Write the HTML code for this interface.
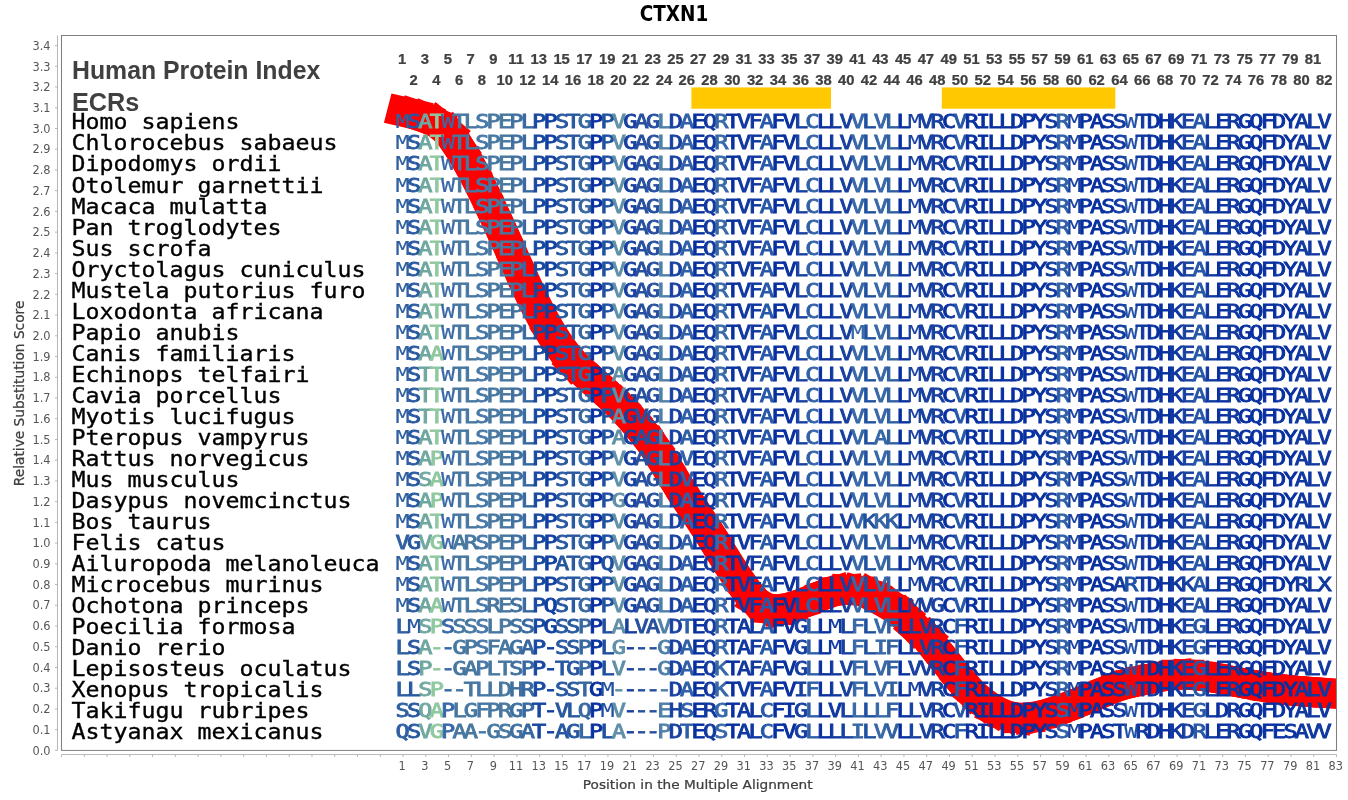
<!DOCTYPE html>
<html><head><meta charset="utf-8"><title>CTXN1</title>
<style>
html,body{margin:0;padding:0;background:#fff;overflow:hidden}
.w{stroke-width:0.15}
svg{display:block}
.m{font-family:"DejaVu Sans Mono","Liberation Mono",monospace}
.s{font-family:"DejaVu Sans","Liberation Sans",sans-serif}
.a{font-family:"Liberation Sans",sans-serif;font-weight:bold;fill:#404040}
.c0{fill:#0830a0;stroke:#0830a0}
.c1{fill:#1038a0;stroke:#1038a0}
.c2{fill:#1040a0;stroke:#1040a0}
.c3{fill:#1840a0;stroke:#1840a0}
.c4{fill:#1848a0;stroke:#1848a0}
.c5{fill:#2050a0;stroke:#2050a0}
.c6{fill:#2050a8;stroke:#2050a8}
.c7{fill:#2850a0;stroke:#2850a0}
.c8{fill:#2858a0;stroke:#2858a0}
.c9{fill:#2858a8;stroke:#2858a8}
.c10{fill:#3060a0;stroke:#3060a0}
.c11{fill:#3060a8;stroke:#3060a8}
.c12{fill:#3868a0;stroke:#3868a0}
.c13{fill:#3868a8;stroke:#3868a8}
.c14{fill:#4070a0;stroke:#4070a0}
.c15{fill:#4878a0;stroke:#4878a0}
.c16{fill:#4878a8;stroke:#4878a8}
.c17{fill:#5080a8;stroke:#5080a8}
.c18{fill:#6090a8;stroke:#6090a8}
.c19{fill:#70a8a0;stroke:#70a8a0}
.c20{fill:#90c8a0;stroke:#90c8a0}
</style></head><body>
<svg width="1348" height="800" viewBox="0 0 1280 800" preserveAspectRatio="none">
<rect x="0" y="0" width="1280" height="800" fill="#fff"/>
<text class="s" transform="translate(640.00,21) scale(0.843,1)" font-size="20.8" font-weight="bold" text-anchor="middle" fill="#000">CTXN1</text>
<defs><clipPath id="pc"><rect x="58.40" y="35.50" width="1210.68" height="714.90"/></clipPath></defs>
<g clip-path="url(#pc)" stroke="#f00" stroke-width="30" stroke-linecap="square" fill="none">
<line x1="382.69" y1="111.66" x2="393.50" y2="114.33"/><line x1="393.50" y1="114.33" x2="404.31" y2="118.20"/><line x1="404.31" y1="118.20" x2="415.12" y2="123.17"/><line x1="415.12" y1="123.17" x2="425.93" y2="132.56"/><line x1="425.93" y1="132.56" x2="436.74" y2="148.85"/><line x1="436.74" y1="148.85" x2="447.55" y2="168.29"/><line x1="447.55" y1="168.29" x2="458.36" y2="190.44"/><line x1="458.36" y1="190.44" x2="469.17" y2="214.47"/><line x1="469.17" y1="214.47" x2="479.98" y2="239.17"/><line x1="479.98" y1="239.17" x2="490.79" y2="264.85"/><line x1="490.79" y1="264.85" x2="501.60" y2="289.69"/><line x1="501.60" y1="289.69" x2="512.41" y2="312.48"/><line x1="512.41" y1="312.48" x2="523.22" y2="332.72"/><line x1="523.22" y1="332.72" x2="534.03" y2="349.82"/><line x1="534.03" y1="349.82" x2="544.84" y2="363.63"/><line x1="544.84" y1="363.63" x2="555.65" y2="374.06"/><line x1="555.65" y1="374.06" x2="566.46" y2="384.25"/><line x1="566.46" y1="384.25" x2="577.26" y2="394.51"/><line x1="577.26" y1="394.51" x2="588.07" y2="405.40"/><line x1="588.07" y1="405.40" x2="598.88" y2="417.44"/><line x1="598.88" y1="417.44" x2="609.69" y2="430.87"/><line x1="609.69" y1="430.87" x2="620.50" y2="445.64"/><line x1="620.50" y1="445.64" x2="631.31" y2="463.68"/><line x1="631.31" y1="463.68" x2="642.12" y2="482.50"/><line x1="642.12" y1="482.50" x2="652.93" y2="500.29"/><line x1="652.93" y1="500.29" x2="663.74" y2="517.36"/><line x1="663.74" y1="517.36" x2="674.55" y2="534.77"/><line x1="674.55" y1="534.77" x2="685.36" y2="553.18"/><line x1="685.36" y1="553.18" x2="696.17" y2="571.29"/><line x1="696.17" y1="571.29" x2="706.98" y2="587.94"/><line x1="706.98" y1="587.94" x2="717.79" y2="601.59"/><line x1="717.79" y1="601.59" x2="728.60" y2="608.38"/><line x1="728.60" y1="608.38" x2="739.41" y2="609.21"/><line x1="739.41" y1="609.21" x2="750.22" y2="607.24"/><line x1="750.22" y1="607.24" x2="761.03" y2="603.67"/><line x1="761.03" y1="603.67" x2="771.84" y2="599.18"/><line x1="771.84" y1="599.18" x2="782.65" y2="594.70"/><line x1="782.65" y1="594.70" x2="793.46" y2="591.06"/><line x1="793.46" y1="591.06" x2="804.27" y2="589.88"/><line x1="804.27" y1="589.88" x2="815.08" y2="590.69"/><line x1="815.08" y1="590.69" x2="825.89" y2="593.71"/><line x1="825.89" y1="593.71" x2="836.70" y2="600.64"/><line x1="836.70" y1="600.64" x2="847.51" y2="606.34"/><line x1="847.51" y1="606.34" x2="858.32" y2="615.60"/><line x1="858.32" y1="615.60" x2="869.13" y2="627.74"/><line x1="869.13" y1="627.74" x2="879.94" y2="637.68"/><line x1="879.94" y1="637.68" x2="890.75" y2="652.03"/><line x1="890.75" y1="652.03" x2="901.56" y2="666.27"/><line x1="901.56" y1="666.27" x2="912.37" y2="680.44"/><line x1="912.37" y1="680.44" x2="923.18" y2="693.29"/><line x1="923.18" y1="693.29" x2="933.99" y2="702.76"/><line x1="933.99" y1="702.76" x2="944.80" y2="710.31"/><line x1="944.80" y1="710.31" x2="955.61" y2="715.32"/><line x1="955.61" y1="715.32" x2="966.42" y2="717.83"/><line x1="966.42" y1="717.83" x2="977.22" y2="717.50"/><line x1="977.22" y1="717.50" x2="988.03" y2="715.50"/><line x1="988.03" y1="715.50" x2="998.84" y2="712.26"/><line x1="998.84" y1="712.26" x2="1009.65" y2="708.38"/><line x1="1009.65" y1="708.38" x2="1020.46" y2="704.05"/><line x1="1020.46" y1="704.05" x2="1031.27" y2="699.42"/><line x1="1031.27" y1="699.42" x2="1042.08" y2="694.68"/><line x1="1042.08" y1="694.68" x2="1052.89" y2="689.89"/><line x1="1052.89" y1="689.89" x2="1063.70" y2="685.78"/><line x1="1063.70" y1="685.78" x2="1074.51" y2="682.65"/><line x1="1074.51" y1="682.65" x2="1085.32" y2="680.27"/><line x1="1085.32" y1="680.27" x2="1096.13" y2="677.89"/><line x1="1096.13" y1="677.89" x2="1106.94" y2="676.01"/><line x1="1106.94" y1="676.01" x2="1117.75" y2="674.84"/><line x1="1117.75" y1="674.84" x2="1128.56" y2="674.83"/><line x1="1128.56" y1="674.83" x2="1139.37" y2="675.71"/><line x1="1139.37" y1="675.71" x2="1150.18" y2="677.28"/><line x1="1150.18" y1="677.28" x2="1160.99" y2="679.24"/><line x1="1160.99" y1="679.24" x2="1171.80" y2="681.41"/><line x1="1171.80" y1="681.41" x2="1182.61" y2="683.55"/><line x1="1182.61" y1="683.55" x2="1193.42" y2="685.57"/><line x1="1193.42" y1="685.57" x2="1204.23" y2="687.41"/><line x1="1204.23" y1="687.41" x2="1215.04" y2="688.95"/><line x1="1215.04" y1="688.95" x2="1225.85" y2="690.23"/><line x1="1225.85" y1="690.23" x2="1236.66" y2="691.32"/><line x1="1236.66" y1="691.32" x2="1247.47" y2="692.15"/><line x1="1247.47" y1="692.15" x2="1258.28" y2="692.96"/><line x1="1258.28" y1="692.96" x2="1269.09" y2="693.63"/>
</g>
<rect x="656.52" y="87.4" width="132.56" height="21.3" fill="#ffc800"/>
<rect x="894.29" y="87.4" width="164.75" height="21.3" fill="#ffc800"/>
<text class="a" transform="translate(68.37,78.8) scale(0.943,1)" font-size="25">Human Protein Index</text>
<text class="a" transform="translate(68.37,111.2) scale(0.96,1)" font-size="25">ECRs</text>
<g class="a" font-size="14.6" text-anchor="middle" stroke="#404040" stroke-width="0.25" transform="scale(0.96,1)">
<text x="397.84" y="63.7">1</text><text x="409.10" y="84.6">2</text><text x="420.36" y="63.7">3</text><text x="431.62" y="84.6">4</text><text x="442.88" y="63.7">5</text><text x="454.14" y="84.6">6</text><text x="465.40" y="63.7">7</text><text x="476.66" y="84.6">8</text><text x="487.92" y="63.7">9</text><text x="499.18" y="84.6">10</text><text x="510.45" y="63.7">11</text><text x="521.71" y="84.6">12</text><text x="532.97" y="63.7">13</text><text x="544.23" y="84.6">14</text><text x="555.49" y="63.7">15</text><text x="566.75" y="84.6">16</text><text x="578.01" y="63.7">17</text><text x="589.27" y="84.6">18</text><text x="600.53" y="63.7">19</text><text x="611.79" y="84.6">20</text><text x="623.05" y="63.7">21</text><text x="634.31" y="84.6">22</text><text x="645.57" y="63.7">23</text><text x="656.83" y="84.6">24</text><text x="668.09" y="63.7">25</text><text x="679.35" y="84.6">26</text><text x="690.61" y="63.7">27</text><text x="701.87" y="84.6">28</text><text x="713.13" y="63.7">29</text><text x="724.39" y="84.6">30</text><text x="735.65" y="63.7">31</text><text x="746.91" y="84.6">32</text><text x="758.17" y="63.7">33</text><text x="769.43" y="84.6">34</text><text x="780.69" y="63.7">35</text><text x="791.95" y="84.6">36</text><text x="803.21" y="63.7">37</text><text x="814.47" y="84.6">38</text><text x="825.73" y="63.7">39</text><text x="836.99" y="84.6">40</text><text x="848.25" y="63.7">41</text><text x="859.51" y="84.6">42</text><text x="870.77" y="63.7">43</text><text x="882.03" y="84.6">44</text><text x="893.29" y="63.7">45</text><text x="904.55" y="84.6">46</text><text x="915.81" y="63.7">47</text><text x="927.07" y="84.6">48</text><text x="938.33" y="63.7">49</text><text x="949.59" y="84.6">50</text><text x="960.85" y="63.7">51</text><text x="972.11" y="84.6">52</text><text x="983.37" y="63.7">53</text><text x="994.63" y="84.6">54</text><text x="1005.89" y="63.7">55</text><text x="1017.15" y="84.6">56</text><text x="1028.41" y="63.7">57</text><text x="1039.67" y="84.6">58</text><text x="1050.93" y="63.7">59</text><text x="1062.19" y="84.6">60</text><text x="1073.45" y="63.7">61</text><text x="1084.71" y="84.6">62</text><text x="1095.97" y="63.7">63</text><text x="1107.23" y="84.6">64</text><text x="1118.49" y="63.7">65</text><text x="1129.75" y="84.6">66</text><text x="1141.01" y="63.7">67</text><text x="1152.27" y="84.6">68</text><text x="1163.53" y="63.7">69</text><text x="1174.79" y="84.6">70</text><text x="1186.05" y="63.7">71</text><text x="1197.31" y="84.6">72</text><text x="1208.57" y="63.7">73</text><text x="1219.83" y="84.6">74</text><text x="1231.09" y="63.7">75</text><text x="1242.35" y="84.6">76</text><text x="1253.61" y="63.7">77</text><text x="1264.87" y="84.6">78</text><text x="1276.13" y="63.7">79</text><text x="1287.39" y="84.6">80</text><text x="1298.65" y="63.7">81</text><text x="1309.91" y="84.6">82</text>
</g>
<g class="m" font-size="22.1" fill="#000" stroke="#000" stroke-width="0.35">
<text x="67.80" y="129.00">Homo sapiens</text>
<text x="67.80" y="150.00">Chlorocebus sabaeus</text>
<text x="67.80" y="171.00">Dipodomys ordii</text>
<text x="67.80" y="193.00">Otolemur garnettii</text>
<text x="67.80" y="214.00">Macaca mulatta</text>
<text x="67.80" y="235.00">Pan troglodytes</text>
<text x="67.80" y="256.00">Sus scrofa</text>
<text x="67.80" y="277.00">Oryctolagus cuniculus</text>
<text x="67.80" y="298.00">Mustela putorius furo</text>
<text x="67.80" y="319.00">Loxodonta africana</text>
<text x="67.80" y="340.00">Papio anubis</text>
<text x="67.80" y="361.00">Canis familiaris</text>
<text x="67.80" y="382.00">Echinops telfairi</text>
<text x="67.80" y="403.00">Cavia porcellus</text>
<text x="67.80" y="424.00">Myotis lucifugus</text>
<text x="67.80" y="445.00">Pteropus vampyrus</text>
<text x="67.80" y="466.00">Rattus norvegicus</text>
<text x="67.80" y="487.00">Mus musculus</text>
<text x="67.80" y="508.00">Dasypus novemcinctus</text>
<text x="67.80" y="529.00">Bos taurus</text>
<text x="67.80" y="550.00">Felis catus</text>
<text x="67.80" y="571.00">Ailuropoda melanoleuca</text>
<text x="67.80" y="592.00">Microcebus murinus</text>
<text x="67.80" y="613.00">Ochotona princeps</text>
<text x="67.80" y="634.00">Poecilia formosa</text>
<text x="67.80" y="655.00">Danio rerio</text>
<text x="67.80" y="676.00">Lepisosteus oculatus</text>
<text x="67.80" y="697.00">Xenopus tropicalis</text>
<text x="67.80" y="718.00">Takifugu rubripes</text>
<text x="67.80" y="739.00">Astyanax mexicanus</text>
</g>
<g class="m" font-size="20" font-weight="normal" stroke-width="0.9" transform="scale(1.12,1)">
<text y="128.45"><tspan class="c10 w" x="335.33">M</tspan><tspan class="c8" x="344.98">S</tspan><tspan class="c19" x="354.63">A</tspan><tspan class="c20" x="364.28">T</tspan><tspan class="c13 w" x="373.93">W</tspan><tspan class="c15" x="383.59">T</tspan><tspan class="c15" x="393.24">L</tspan><tspan class="c16" x="402.89">S</tspan><tspan class="c15" x="412.54">P</tspan><tspan class="c15" x="422.19">E</tspan><tspan class="c14" x="431.84">P</tspan><tspan class="c12" x="441.49">L</tspan><tspan class="c4" x="451.15">P</tspan><tspan class="c2" x="460.80">P</tspan><tspan class="c8" x="470.45">S</tspan><tspan class="c8" x="480.10">T</tspan><tspan class="c12" x="489.75">G</tspan><tspan class="c0" x="499.40">P</tspan><tspan class="c5" x="509.06">P</tspan><tspan class="c18" x="518.71">V</tspan><tspan class="c3" x="528.36">G</tspan><tspan class="c7" x="538.01">A</tspan><tspan class="c7" x="547.66">G</tspan><tspan class="c17" x="557.31">L</tspan><tspan class="c3" x="566.96">D</tspan><tspan class="c11" x="576.62">A</tspan><tspan class="c0" x="586.27">E</tspan><tspan class="c1" x="595.92">Q</tspan><tspan class="c13" x="605.57">R</tspan><tspan class="c0" x="615.22">T</tspan><tspan class="c1" x="624.87">V</tspan><tspan class="c1" x="634.53">F</tspan><tspan class="c9" x="644.18">A</tspan><tspan class="c0" x="653.83">F</tspan><tspan class="c0" x="663.48">V</tspan><tspan class="c3" x="673.13">L</tspan><tspan class="c11" x="682.78">C</tspan><tspan class="c0" x="692.43">L</tspan><tspan class="c1" x="702.09">L</tspan><tspan class="c3" x="711.74">V</tspan><tspan class="c13" x="721.39">V</tspan><tspan class="c5" x="731.04">L</tspan><tspan class="c13" x="740.69">V</tspan><tspan class="c10" x="750.34">L</tspan><tspan class="c0" x="760.00">L</tspan><tspan class="c3 w" x="769.65">M</tspan><tspan class="c3" x="779.30">V</tspan><tspan class="c3" x="788.95">R</tspan><tspan class="c0" x="798.60">C</tspan><tspan class="c9" x="808.25">V</tspan><tspan class="c0" x="817.90">R</tspan><tspan class="c0" x="827.56">I</tspan><tspan class="c0" x="837.21">L</tspan><tspan class="c0" x="846.86">L</tspan><tspan class="c0" x="856.51">D</tspan><tspan class="c0" x="866.16">P</tspan><tspan class="c0" x="875.81">Y</tspan><tspan class="c1" x="885.47">S</tspan><tspan class="c11" x="895.12">R</tspan><tspan class="c3 w" x="904.77">M</tspan><tspan class="c0" x="914.42">P</tspan><tspan class="c0" x="924.07">A</tspan><tspan class="c0" x="933.72">S</tspan><tspan class="c1" x="943.38">S</tspan><tspan class="c6 w" x="953.03">W</tspan><tspan class="c1" x="962.68">T</tspan><tspan class="c0" x="972.33">D</tspan><tspan class="c0" x="981.98">H</tspan><tspan class="c1" x="991.63">K</tspan><tspan class="c3" x="1001.28">E</tspan><tspan class="c9" x="1010.94">A</tspan><tspan class="c1" x="1020.59">L</tspan><tspan class="c0" x="1030.24">E</tspan><tspan class="c1" x="1039.89">R</tspan><tspan class="c0" x="1049.54">G</tspan><tspan class="c0" x="1059.19">Q</tspan><tspan class="c0" x="1068.85">F</tspan><tspan class="c0" x="1078.50">D</tspan><tspan class="c0" x="1088.15">Y</tspan><tspan class="c1" x="1097.80">A</tspan><tspan class="c1" x="1107.45">L</tspan><tspan class="c1" x="1117.10">V</tspan></text>
<text y="149.45"><tspan class="c10 w" x="335.33">M</tspan><tspan class="c8" x="344.98">S</tspan><tspan class="c19" x="354.63">A</tspan><tspan class="c20" x="364.28">T</tspan><tspan class="c13 w" x="373.93">W</tspan><tspan class="c15" x="383.59">T</tspan><tspan class="c15" x="393.24">L</tspan><tspan class="c16" x="402.89">S</tspan><tspan class="c15" x="412.54">P</tspan><tspan class="c15" x="422.19">E</tspan><tspan class="c14" x="431.84">P</tspan><tspan class="c12" x="441.49">L</tspan><tspan class="c4" x="451.15">P</tspan><tspan class="c2" x="460.80">P</tspan><tspan class="c8" x="470.45">S</tspan><tspan class="c8" x="480.10">T</tspan><tspan class="c12" x="489.75">G</tspan><tspan class="c0" x="499.40">P</tspan><tspan class="c5" x="509.06">P</tspan><tspan class="c18" x="518.71">V</tspan><tspan class="c3" x="528.36">G</tspan><tspan class="c7" x="538.01">A</tspan><tspan class="c7" x="547.66">G</tspan><tspan class="c17" x="557.31">L</tspan><tspan class="c3" x="566.96">D</tspan><tspan class="c11" x="576.62">A</tspan><tspan class="c0" x="586.27">E</tspan><tspan class="c1" x="595.92">Q</tspan><tspan class="c13" x="605.57">R</tspan><tspan class="c0" x="615.22">T</tspan><tspan class="c1" x="624.87">V</tspan><tspan class="c1" x="634.53">F</tspan><tspan class="c9" x="644.18">A</tspan><tspan class="c0" x="653.83">F</tspan><tspan class="c0" x="663.48">V</tspan><tspan class="c3" x="673.13">L</tspan><tspan class="c11" x="682.78">C</tspan><tspan class="c0" x="692.43">L</tspan><tspan class="c1" x="702.09">L</tspan><tspan class="c3" x="711.74">V</tspan><tspan class="c13" x="721.39">V</tspan><tspan class="c5" x="731.04">L</tspan><tspan class="c13" x="740.69">V</tspan><tspan class="c10" x="750.34">L</tspan><tspan class="c0" x="760.00">L</tspan><tspan class="c3 w" x="769.65">M</tspan><tspan class="c3" x="779.30">V</tspan><tspan class="c3" x="788.95">R</tspan><tspan class="c0" x="798.60">C</tspan><tspan class="c9" x="808.25">V</tspan><tspan class="c0" x="817.90">R</tspan><tspan class="c0" x="827.56">I</tspan><tspan class="c0" x="837.21">L</tspan><tspan class="c0" x="846.86">L</tspan><tspan class="c0" x="856.51">D</tspan><tspan class="c0" x="866.16">P</tspan><tspan class="c0" x="875.81">Y</tspan><tspan class="c1" x="885.47">S</tspan><tspan class="c11" x="895.12">R</tspan><tspan class="c3 w" x="904.77">M</tspan><tspan class="c0" x="914.42">P</tspan><tspan class="c0" x="924.07">A</tspan><tspan class="c0" x="933.72">S</tspan><tspan class="c1" x="943.38">S</tspan><tspan class="c6 w" x="953.03">W</tspan><tspan class="c1" x="962.68">T</tspan><tspan class="c0" x="972.33">D</tspan><tspan class="c0" x="981.98">H</tspan><tspan class="c1" x="991.63">K</tspan><tspan class="c3" x="1001.28">E</tspan><tspan class="c9" x="1010.94">A</tspan><tspan class="c1" x="1020.59">L</tspan><tspan class="c0" x="1030.24">E</tspan><tspan class="c1" x="1039.89">R</tspan><tspan class="c0" x="1049.54">G</tspan><tspan class="c0" x="1059.19">Q</tspan><tspan class="c0" x="1068.85">F</tspan><tspan class="c0" x="1078.50">D</tspan><tspan class="c0" x="1088.15">Y</tspan><tspan class="c1" x="1097.80">A</tspan><tspan class="c1" x="1107.45">L</tspan><tspan class="c1" x="1117.10">V</tspan></text>
<text y="170.45"><tspan class="c10 w" x="335.33">M</tspan><tspan class="c8" x="344.98">S</tspan><tspan class="c19" x="354.63">A</tspan><tspan class="c20" x="364.28">T</tspan><tspan class="c13 w" x="373.93">W</tspan><tspan class="c15" x="383.59">T</tspan><tspan class="c15" x="393.24">L</tspan><tspan class="c16" x="402.89">S</tspan><tspan class="c15" x="412.54">P</tspan><tspan class="c15" x="422.19">E</tspan><tspan class="c14" x="431.84">P</tspan><tspan class="c12" x="441.49">L</tspan><tspan class="c4" x="451.15">P</tspan><tspan class="c2" x="460.80">P</tspan><tspan class="c8" x="470.45">S</tspan><tspan class="c8" x="480.10">T</tspan><tspan class="c12" x="489.75">G</tspan><tspan class="c0" x="499.40">P</tspan><tspan class="c5" x="509.06">P</tspan><tspan class="c18" x="518.71">V</tspan><tspan class="c3" x="528.36">G</tspan><tspan class="c7" x="538.01">A</tspan><tspan class="c7" x="547.66">G</tspan><tspan class="c17" x="557.31">L</tspan><tspan class="c3" x="566.96">D</tspan><tspan class="c11" x="576.62">A</tspan><tspan class="c0" x="586.27">E</tspan><tspan class="c1" x="595.92">Q</tspan><tspan class="c13" x="605.57">R</tspan><tspan class="c0" x="615.22">T</tspan><tspan class="c1" x="624.87">V</tspan><tspan class="c1" x="634.53">F</tspan><tspan class="c9" x="644.18">A</tspan><tspan class="c0" x="653.83">F</tspan><tspan class="c0" x="663.48">V</tspan><tspan class="c3" x="673.13">L</tspan><tspan class="c11" x="682.78">C</tspan><tspan class="c0" x="692.43">L</tspan><tspan class="c1" x="702.09">L</tspan><tspan class="c3" x="711.74">V</tspan><tspan class="c13" x="721.39">V</tspan><tspan class="c5" x="731.04">L</tspan><tspan class="c13" x="740.69">V</tspan><tspan class="c10" x="750.34">L</tspan><tspan class="c0" x="760.00">L</tspan><tspan class="c3 w" x="769.65">M</tspan><tspan class="c3" x="779.30">V</tspan><tspan class="c3" x="788.95">R</tspan><tspan class="c0" x="798.60">C</tspan><tspan class="c9" x="808.25">V</tspan><tspan class="c0" x="817.90">R</tspan><tspan class="c0" x="827.56">I</tspan><tspan class="c0" x="837.21">L</tspan><tspan class="c0" x="846.86">L</tspan><tspan class="c0" x="856.51">D</tspan><tspan class="c0" x="866.16">P</tspan><tspan class="c0" x="875.81">Y</tspan><tspan class="c1" x="885.47">S</tspan><tspan class="c11" x="895.12">R</tspan><tspan class="c3 w" x="904.77">M</tspan><tspan class="c0" x="914.42">P</tspan><tspan class="c0" x="924.07">A</tspan><tspan class="c0" x="933.72">S</tspan><tspan class="c1" x="943.38">S</tspan><tspan class="c6 w" x="953.03">W</tspan><tspan class="c1" x="962.68">T</tspan><tspan class="c0" x="972.33">D</tspan><tspan class="c0" x="981.98">H</tspan><tspan class="c1" x="991.63">K</tspan><tspan class="c3" x="1001.28">E</tspan><tspan class="c9" x="1010.94">A</tspan><tspan class="c1" x="1020.59">L</tspan><tspan class="c0" x="1030.24">E</tspan><tspan class="c1" x="1039.89">R</tspan><tspan class="c0" x="1049.54">G</tspan><tspan class="c0" x="1059.19">Q</tspan><tspan class="c0" x="1068.85">F</tspan><tspan class="c0" x="1078.50">D</tspan><tspan class="c0" x="1088.15">Y</tspan><tspan class="c1" x="1097.80">A</tspan><tspan class="c1" x="1107.45">L</tspan><tspan class="c1" x="1117.10">V</tspan></text>
<text y="192.45"><tspan class="c10 w" x="335.33">M</tspan><tspan class="c8" x="344.98">S</tspan><tspan class="c19" x="354.63">A</tspan><tspan class="c20" x="364.28">T</tspan><tspan class="c13 w" x="373.93">W</tspan><tspan class="c15" x="383.59">T</tspan><tspan class="c15" x="393.24">L</tspan><tspan class="c16" x="402.89">S</tspan><tspan class="c15" x="412.54">P</tspan><tspan class="c15" x="422.19">E</tspan><tspan class="c14" x="431.84">P</tspan><tspan class="c12" x="441.49">L</tspan><tspan class="c4" x="451.15">P</tspan><tspan class="c2" x="460.80">P</tspan><tspan class="c8" x="470.45">S</tspan><tspan class="c8" x="480.10">T</tspan><tspan class="c12" x="489.75">G</tspan><tspan class="c0" x="499.40">P</tspan><tspan class="c5" x="509.06">P</tspan><tspan class="c18" x="518.71">V</tspan><tspan class="c3" x="528.36">G</tspan><tspan class="c7" x="538.01">A</tspan><tspan class="c7" x="547.66">G</tspan><tspan class="c17" x="557.31">L</tspan><tspan class="c3" x="566.96">D</tspan><tspan class="c11" x="576.62">A</tspan><tspan class="c0" x="586.27">E</tspan><tspan class="c1" x="595.92">Q</tspan><tspan class="c13" x="605.57">R</tspan><tspan class="c0" x="615.22">T</tspan><tspan class="c1" x="624.87">V</tspan><tspan class="c1" x="634.53">F</tspan><tspan class="c9" x="644.18">A</tspan><tspan class="c0" x="653.83">F</tspan><tspan class="c0" x="663.48">V</tspan><tspan class="c3" x="673.13">L</tspan><tspan class="c11" x="682.78">C</tspan><tspan class="c0" x="692.43">L</tspan><tspan class="c1" x="702.09">L</tspan><tspan class="c3" x="711.74">V</tspan><tspan class="c13" x="721.39">V</tspan><tspan class="c5" x="731.04">L</tspan><tspan class="c13" x="740.69">V</tspan><tspan class="c10" x="750.34">L</tspan><tspan class="c0" x="760.00">L</tspan><tspan class="c3 w" x="769.65">M</tspan><tspan class="c3" x="779.30">V</tspan><tspan class="c3" x="788.95">R</tspan><tspan class="c0" x="798.60">C</tspan><tspan class="c9" x="808.25">V</tspan><tspan class="c0" x="817.90">R</tspan><tspan class="c0" x="827.56">I</tspan><tspan class="c0" x="837.21">L</tspan><tspan class="c0" x="846.86">L</tspan><tspan class="c0" x="856.51">D</tspan><tspan class="c0" x="866.16">P</tspan><tspan class="c0" x="875.81">Y</tspan><tspan class="c1" x="885.47">S</tspan><tspan class="c11" x="895.12">R</tspan><tspan class="c3 w" x="904.77">M</tspan><tspan class="c0" x="914.42">P</tspan><tspan class="c0" x="924.07">A</tspan><tspan class="c0" x="933.72">S</tspan><tspan class="c1" x="943.38">S</tspan><tspan class="c6 w" x="953.03">W</tspan><tspan class="c1" x="962.68">T</tspan><tspan class="c0" x="972.33">D</tspan><tspan class="c0" x="981.98">H</tspan><tspan class="c1" x="991.63">K</tspan><tspan class="c3" x="1001.28">E</tspan><tspan class="c9" x="1010.94">A</tspan><tspan class="c1" x="1020.59">L</tspan><tspan class="c0" x="1030.24">E</tspan><tspan class="c1" x="1039.89">R</tspan><tspan class="c0" x="1049.54">G</tspan><tspan class="c0" x="1059.19">Q</tspan><tspan class="c0" x="1068.85">F</tspan><tspan class="c0" x="1078.50">D</tspan><tspan class="c0" x="1088.15">Y</tspan><tspan class="c1" x="1097.80">A</tspan><tspan class="c1" x="1107.45">L</tspan><tspan class="c1" x="1117.10">V</tspan></text>
<text y="213.45"><tspan class="c10 w" x="335.33">M</tspan><tspan class="c8" x="344.98">S</tspan><tspan class="c19" x="354.63">A</tspan><tspan class="c20" x="364.28">T</tspan><tspan class="c13 w" x="373.93">W</tspan><tspan class="c15" x="383.59">T</tspan><tspan class="c15" x="393.24">L</tspan><tspan class="c16" x="402.89">S</tspan><tspan class="c15" x="412.54">P</tspan><tspan class="c15" x="422.19">E</tspan><tspan class="c14" x="431.84">P</tspan><tspan class="c12" x="441.49">L</tspan><tspan class="c4" x="451.15">P</tspan><tspan class="c2" x="460.80">P</tspan><tspan class="c8" x="470.45">S</tspan><tspan class="c8" x="480.10">T</tspan><tspan class="c12" x="489.75">G</tspan><tspan class="c0" x="499.40">P</tspan><tspan class="c5" x="509.06">P</tspan><tspan class="c18" x="518.71">V</tspan><tspan class="c3" x="528.36">G</tspan><tspan class="c7" x="538.01">A</tspan><tspan class="c7" x="547.66">G</tspan><tspan class="c17" x="557.31">L</tspan><tspan class="c3" x="566.96">D</tspan><tspan class="c11" x="576.62">A</tspan><tspan class="c0" x="586.27">E</tspan><tspan class="c1" x="595.92">Q</tspan><tspan class="c13" x="605.57">R</tspan><tspan class="c0" x="615.22">T</tspan><tspan class="c1" x="624.87">V</tspan><tspan class="c1" x="634.53">F</tspan><tspan class="c9" x="644.18">A</tspan><tspan class="c0" x="653.83">F</tspan><tspan class="c0" x="663.48">V</tspan><tspan class="c3" x="673.13">L</tspan><tspan class="c11" x="682.78">C</tspan><tspan class="c0" x="692.43">L</tspan><tspan class="c1" x="702.09">L</tspan><tspan class="c3" x="711.74">V</tspan><tspan class="c13" x="721.39">V</tspan><tspan class="c5" x="731.04">L</tspan><tspan class="c13" x="740.69">V</tspan><tspan class="c10" x="750.34">L</tspan><tspan class="c0" x="760.00">L</tspan><tspan class="c3 w" x="769.65">M</tspan><tspan class="c3" x="779.30">V</tspan><tspan class="c3" x="788.95">R</tspan><tspan class="c0" x="798.60">C</tspan><tspan class="c9" x="808.25">V</tspan><tspan class="c0" x="817.90">R</tspan><tspan class="c0" x="827.56">I</tspan><tspan class="c0" x="837.21">L</tspan><tspan class="c0" x="846.86">L</tspan><tspan class="c0" x="856.51">D</tspan><tspan class="c0" x="866.16">P</tspan><tspan class="c0" x="875.81">Y</tspan><tspan class="c1" x="885.47">S</tspan><tspan class="c11" x="895.12">R</tspan><tspan class="c3 w" x="904.77">M</tspan><tspan class="c0" x="914.42">P</tspan><tspan class="c0" x="924.07">A</tspan><tspan class="c0" x="933.72">S</tspan><tspan class="c1" x="943.38">S</tspan><tspan class="c6 w" x="953.03">W</tspan><tspan class="c1" x="962.68">T</tspan><tspan class="c0" x="972.33">D</tspan><tspan class="c0" x="981.98">H</tspan><tspan class="c1" x="991.63">K</tspan><tspan class="c3" x="1001.28">E</tspan><tspan class="c9" x="1010.94">A</tspan><tspan class="c1" x="1020.59">L</tspan><tspan class="c0" x="1030.24">E</tspan><tspan class="c1" x="1039.89">R</tspan><tspan class="c0" x="1049.54">G</tspan><tspan class="c0" x="1059.19">Q</tspan><tspan class="c0" x="1068.85">F</tspan><tspan class="c0" x="1078.50">D</tspan><tspan class="c0" x="1088.15">Y</tspan><tspan class="c1" x="1097.80">A</tspan><tspan class="c1" x="1107.45">L</tspan><tspan class="c1" x="1117.10">V</tspan></text>
<text y="234.45"><tspan class="c10 w" x="335.33">M</tspan><tspan class="c8" x="344.98">S</tspan><tspan class="c19" x="354.63">A</tspan><tspan class="c20" x="364.28">T</tspan><tspan class="c13 w" x="373.93">W</tspan><tspan class="c15" x="383.59">T</tspan><tspan class="c15" x="393.24">L</tspan><tspan class="c16" x="402.89">S</tspan><tspan class="c15" x="412.54">P</tspan><tspan class="c15" x="422.19">E</tspan><tspan class="c14" x="431.84">P</tspan><tspan class="c12" x="441.49">L</tspan><tspan class="c4" x="451.15">P</tspan><tspan class="c2" x="460.80">P</tspan><tspan class="c8" x="470.45">S</tspan><tspan class="c8" x="480.10">T</tspan><tspan class="c12" x="489.75">G</tspan><tspan class="c0" x="499.40">P</tspan><tspan class="c5" x="509.06">P</tspan><tspan class="c18" x="518.71">V</tspan><tspan class="c3" x="528.36">G</tspan><tspan class="c7" x="538.01">A</tspan><tspan class="c7" x="547.66">G</tspan><tspan class="c17" x="557.31">L</tspan><tspan class="c3" x="566.96">D</tspan><tspan class="c11" x="576.62">A</tspan><tspan class="c0" x="586.27">E</tspan><tspan class="c1" x="595.92">Q</tspan><tspan class="c13" x="605.57">R</tspan><tspan class="c0" x="615.22">T</tspan><tspan class="c1" x="624.87">V</tspan><tspan class="c1" x="634.53">F</tspan><tspan class="c9" x="644.18">A</tspan><tspan class="c0" x="653.83">F</tspan><tspan class="c0" x="663.48">V</tspan><tspan class="c3" x="673.13">L</tspan><tspan class="c11" x="682.78">C</tspan><tspan class="c0" x="692.43">L</tspan><tspan class="c1" x="702.09">L</tspan><tspan class="c3" x="711.74">V</tspan><tspan class="c13" x="721.39">V</tspan><tspan class="c5" x="731.04">L</tspan><tspan class="c13" x="740.69">V</tspan><tspan class="c10" x="750.34">L</tspan><tspan class="c0" x="760.00">L</tspan><tspan class="c3 w" x="769.65">M</tspan><tspan class="c3" x="779.30">V</tspan><tspan class="c3" x="788.95">R</tspan><tspan class="c0" x="798.60">C</tspan><tspan class="c9" x="808.25">V</tspan><tspan class="c0" x="817.90">R</tspan><tspan class="c0" x="827.56">I</tspan><tspan class="c0" x="837.21">L</tspan><tspan class="c0" x="846.86">L</tspan><tspan class="c0" x="856.51">D</tspan><tspan class="c0" x="866.16">P</tspan><tspan class="c0" x="875.81">Y</tspan><tspan class="c1" x="885.47">S</tspan><tspan class="c11" x="895.12">R</tspan><tspan class="c3 w" x="904.77">M</tspan><tspan class="c0" x="914.42">P</tspan><tspan class="c0" x="924.07">A</tspan><tspan class="c0" x="933.72">S</tspan><tspan class="c1" x="943.38">S</tspan><tspan class="c6 w" x="953.03">W</tspan><tspan class="c1" x="962.68">T</tspan><tspan class="c0" x="972.33">D</tspan><tspan class="c0" x="981.98">H</tspan><tspan class="c1" x="991.63">K</tspan><tspan class="c3" x="1001.28">E</tspan><tspan class="c9" x="1010.94">A</tspan><tspan class="c1" x="1020.59">L</tspan><tspan class="c0" x="1030.24">E</tspan><tspan class="c1" x="1039.89">R</tspan><tspan class="c0" x="1049.54">G</tspan><tspan class="c0" x="1059.19">Q</tspan><tspan class="c0" x="1068.85">F</tspan><tspan class="c0" x="1078.50">D</tspan><tspan class="c0" x="1088.15">Y</tspan><tspan class="c1" x="1097.80">A</tspan><tspan class="c1" x="1107.45">L</tspan><tspan class="c1" x="1117.10">V</tspan></text>
<text y="255.45"><tspan class="c10 w" x="335.33">M</tspan><tspan class="c8" x="344.98">S</tspan><tspan class="c19" x="354.63">A</tspan><tspan class="c20" x="364.28">T</tspan><tspan class="c13 w" x="373.93">W</tspan><tspan class="c15" x="383.59">T</tspan><tspan class="c15" x="393.24">L</tspan><tspan class="c16" x="402.89">S</tspan><tspan class="c15" x="412.54">P</tspan><tspan class="c15" x="422.19">E</tspan><tspan class="c14" x="431.84">P</tspan><tspan class="c12" x="441.49">L</tspan><tspan class="c4" x="451.15">P</tspan><tspan class="c2" x="460.80">P</tspan><tspan class="c8" x="470.45">S</tspan><tspan class="c8" x="480.10">T</tspan><tspan class="c12" x="489.75">G</tspan><tspan class="c0" x="499.40">P</tspan><tspan class="c5" x="509.06">P</tspan><tspan class="c18" x="518.71">V</tspan><tspan class="c3" x="528.36">G</tspan><tspan class="c7" x="538.01">A</tspan><tspan class="c7" x="547.66">G</tspan><tspan class="c17" x="557.31">L</tspan><tspan class="c3" x="566.96">D</tspan><tspan class="c11" x="576.62">A</tspan><tspan class="c0" x="586.27">E</tspan><tspan class="c1" x="595.92">Q</tspan><tspan class="c13" x="605.57">R</tspan><tspan class="c0" x="615.22">T</tspan><tspan class="c1" x="624.87">V</tspan><tspan class="c1" x="634.53">F</tspan><tspan class="c9" x="644.18">A</tspan><tspan class="c0" x="653.83">F</tspan><tspan class="c0" x="663.48">V</tspan><tspan class="c3" x="673.13">L</tspan><tspan class="c11" x="682.78">C</tspan><tspan class="c0" x="692.43">L</tspan><tspan class="c1" x="702.09">L</tspan><tspan class="c3" x="711.74">V</tspan><tspan class="c13" x="721.39">V</tspan><tspan class="c5" x="731.04">L</tspan><tspan class="c13" x="740.69">V</tspan><tspan class="c10" x="750.34">L</tspan><tspan class="c0" x="760.00">L</tspan><tspan class="c3 w" x="769.65">M</tspan><tspan class="c3" x="779.30">V</tspan><tspan class="c3" x="788.95">R</tspan><tspan class="c0" x="798.60">C</tspan><tspan class="c9" x="808.25">V</tspan><tspan class="c0" x="817.90">R</tspan><tspan class="c0" x="827.56">I</tspan><tspan class="c0" x="837.21">L</tspan><tspan class="c0" x="846.86">L</tspan><tspan class="c0" x="856.51">D</tspan><tspan class="c0" x="866.16">P</tspan><tspan class="c0" x="875.81">Y</tspan><tspan class="c1" x="885.47">S</tspan><tspan class="c11" x="895.12">R</tspan><tspan class="c3 w" x="904.77">M</tspan><tspan class="c0" x="914.42">P</tspan><tspan class="c0" x="924.07">A</tspan><tspan class="c0" x="933.72">S</tspan><tspan class="c1" x="943.38">S</tspan><tspan class="c6 w" x="953.03">W</tspan><tspan class="c1" x="962.68">T</tspan><tspan class="c0" x="972.33">D</tspan><tspan class="c0" x="981.98">H</tspan><tspan class="c1" x="991.63">K</tspan><tspan class="c3" x="1001.28">E</tspan><tspan class="c9" x="1010.94">A</tspan><tspan class="c1" x="1020.59">L</tspan><tspan class="c0" x="1030.24">E</tspan><tspan class="c1" x="1039.89">R</tspan><tspan class="c0" x="1049.54">G</tspan><tspan class="c0" x="1059.19">Q</tspan><tspan class="c0" x="1068.85">F</tspan><tspan class="c0" x="1078.50">D</tspan><tspan class="c0" x="1088.15">Y</tspan><tspan class="c1" x="1097.80">A</tspan><tspan class="c1" x="1107.45">L</tspan><tspan class="c1" x="1117.10">V</tspan></text>
<text y="276.45"><tspan class="c10 w" x="335.33">M</tspan><tspan class="c8" x="344.98">S</tspan><tspan class="c19" x="354.63">A</tspan><tspan class="c20" x="364.28">T</tspan><tspan class="c13 w" x="373.93">W</tspan><tspan class="c15" x="383.59">T</tspan><tspan class="c15" x="393.24">L</tspan><tspan class="c16" x="402.89">S</tspan><tspan class="c15" x="412.54">P</tspan><tspan class="c15" x="422.19">E</tspan><tspan class="c14" x="431.84">P</tspan><tspan class="c12" x="441.49">L</tspan><tspan class="c4" x="451.15">P</tspan><tspan class="c2" x="460.80">P</tspan><tspan class="c8" x="470.45">S</tspan><tspan class="c8" x="480.10">T</tspan><tspan class="c12" x="489.75">G</tspan><tspan class="c0" x="499.40">P</tspan><tspan class="c5" x="509.06">P</tspan><tspan class="c18" x="518.71">V</tspan><tspan class="c3" x="528.36">G</tspan><tspan class="c7" x="538.01">A</tspan><tspan class="c7" x="547.66">G</tspan><tspan class="c17" x="557.31">L</tspan><tspan class="c3" x="566.96">D</tspan><tspan class="c11" x="576.62">A</tspan><tspan class="c0" x="586.27">E</tspan><tspan class="c1" x="595.92">Q</tspan><tspan class="c13" x="605.57">R</tspan><tspan class="c0" x="615.22">T</tspan><tspan class="c1" x="624.87">V</tspan><tspan class="c1" x="634.53">F</tspan><tspan class="c9" x="644.18">A</tspan><tspan class="c0" x="653.83">F</tspan><tspan class="c0" x="663.48">V</tspan><tspan class="c3" x="673.13">L</tspan><tspan class="c11" x="682.78">C</tspan><tspan class="c0" x="692.43">L</tspan><tspan class="c1" x="702.09">L</tspan><tspan class="c3" x="711.74">V</tspan><tspan class="c13" x="721.39">V</tspan><tspan class="c5" x="731.04">L</tspan><tspan class="c13" x="740.69">V</tspan><tspan class="c10" x="750.34">L</tspan><tspan class="c0" x="760.00">L</tspan><tspan class="c3 w" x="769.65">M</tspan><tspan class="c3" x="779.30">V</tspan><tspan class="c3" x="788.95">R</tspan><tspan class="c0" x="798.60">C</tspan><tspan class="c9" x="808.25">V</tspan><tspan class="c0" x="817.90">R</tspan><tspan class="c0" x="827.56">I</tspan><tspan class="c0" x="837.21">L</tspan><tspan class="c0" x="846.86">L</tspan><tspan class="c0" x="856.51">D</tspan><tspan class="c0" x="866.16">P</tspan><tspan class="c0" x="875.81">Y</tspan><tspan class="c1" x="885.47">S</tspan><tspan class="c11" x="895.12">R</tspan><tspan class="c3 w" x="904.77">M</tspan><tspan class="c0" x="914.42">P</tspan><tspan class="c0" x="924.07">A</tspan><tspan class="c0" x="933.72">S</tspan><tspan class="c1" x="943.38">S</tspan><tspan class="c6 w" x="953.03">W</tspan><tspan class="c1" x="962.68">T</tspan><tspan class="c0" x="972.33">D</tspan><tspan class="c0" x="981.98">H</tspan><tspan class="c1" x="991.63">K</tspan><tspan class="c3" x="1001.28">E</tspan><tspan class="c9" x="1010.94">A</tspan><tspan class="c1" x="1020.59">L</tspan><tspan class="c0" x="1030.24">E</tspan><tspan class="c1" x="1039.89">R</tspan><tspan class="c0" x="1049.54">G</tspan><tspan class="c0" x="1059.19">Q</tspan><tspan class="c0" x="1068.85">F</tspan><tspan class="c0" x="1078.50">D</tspan><tspan class="c0" x="1088.15">Y</tspan><tspan class="c1" x="1097.80">A</tspan><tspan class="c1" x="1107.45">L</tspan><tspan class="c1" x="1117.10">V</tspan></text>
<text y="297.45"><tspan class="c10 w" x="335.33">M</tspan><tspan class="c8" x="344.98">S</tspan><tspan class="c19" x="354.63">A</tspan><tspan class="c20" x="364.28">T</tspan><tspan class="c13 w" x="373.93">W</tspan><tspan class="c15" x="383.59">T</tspan><tspan class="c15" x="393.24">L</tspan><tspan class="c16" x="402.89">S</tspan><tspan class="c15" x="412.54">P</tspan><tspan class="c15" x="422.19">E</tspan><tspan class="c14" x="431.84">P</tspan><tspan class="c12" x="441.49">L</tspan><tspan class="c4" x="451.15">P</tspan><tspan class="c2" x="460.80">P</tspan><tspan class="c8" x="470.45">S</tspan><tspan class="c8" x="480.10">T</tspan><tspan class="c12" x="489.75">G</tspan><tspan class="c0" x="499.40">P</tspan><tspan class="c5" x="509.06">P</tspan><tspan class="c18" x="518.71">V</tspan><tspan class="c3" x="528.36">G</tspan><tspan class="c7" x="538.01">A</tspan><tspan class="c7" x="547.66">G</tspan><tspan class="c17" x="557.31">L</tspan><tspan class="c3" x="566.96">D</tspan><tspan class="c11" x="576.62">A</tspan><tspan class="c0" x="586.27">E</tspan><tspan class="c1" x="595.92">Q</tspan><tspan class="c13" x="605.57">R</tspan><tspan class="c0" x="615.22">T</tspan><tspan class="c1" x="624.87">V</tspan><tspan class="c1" x="634.53">F</tspan><tspan class="c9" x="644.18">A</tspan><tspan class="c0" x="653.83">F</tspan><tspan class="c0" x="663.48">V</tspan><tspan class="c3" x="673.13">L</tspan><tspan class="c11" x="682.78">C</tspan><tspan class="c0" x="692.43">L</tspan><tspan class="c1" x="702.09">L</tspan><tspan class="c3" x="711.74">V</tspan><tspan class="c13" x="721.39">V</tspan><tspan class="c5" x="731.04">L</tspan><tspan class="c13" x="740.69">V</tspan><tspan class="c10" x="750.34">L</tspan><tspan class="c0" x="760.00">L</tspan><tspan class="c3 w" x="769.65">M</tspan><tspan class="c3" x="779.30">V</tspan><tspan class="c3" x="788.95">R</tspan><tspan class="c0" x="798.60">C</tspan><tspan class="c9" x="808.25">V</tspan><tspan class="c0" x="817.90">R</tspan><tspan class="c0" x="827.56">I</tspan><tspan class="c0" x="837.21">L</tspan><tspan class="c0" x="846.86">L</tspan><tspan class="c0" x="856.51">D</tspan><tspan class="c0" x="866.16">P</tspan><tspan class="c0" x="875.81">Y</tspan><tspan class="c1" x="885.47">S</tspan><tspan class="c11" x="895.12">R</tspan><tspan class="c3 w" x="904.77">M</tspan><tspan class="c0" x="914.42">P</tspan><tspan class="c0" x="924.07">A</tspan><tspan class="c0" x="933.72">S</tspan><tspan class="c1" x="943.38">S</tspan><tspan class="c6 w" x="953.03">W</tspan><tspan class="c1" x="962.68">T</tspan><tspan class="c0" x="972.33">D</tspan><tspan class="c0" x="981.98">H</tspan><tspan class="c1" x="991.63">K</tspan><tspan class="c3" x="1001.28">E</tspan><tspan class="c9" x="1010.94">A</tspan><tspan class="c1" x="1020.59">L</tspan><tspan class="c0" x="1030.24">E</tspan><tspan class="c1" x="1039.89">R</tspan><tspan class="c0" x="1049.54">G</tspan><tspan class="c0" x="1059.19">Q</tspan><tspan class="c0" x="1068.85">F</tspan><tspan class="c0" x="1078.50">D</tspan><tspan class="c0" x="1088.15">Y</tspan><tspan class="c1" x="1097.80">A</tspan><tspan class="c1" x="1107.45">L</tspan><tspan class="c1" x="1117.10">V</tspan></text>
<text y="318.45"><tspan class="c10 w" x="335.33">M</tspan><tspan class="c8" x="344.98">S</tspan><tspan class="c19" x="354.63">A</tspan><tspan class="c20" x="364.28">T</tspan><tspan class="c13 w" x="373.93">W</tspan><tspan class="c15" x="383.59">T</tspan><tspan class="c15" x="393.24">L</tspan><tspan class="c16" x="402.89">S</tspan><tspan class="c15" x="412.54">P</tspan><tspan class="c15" x="422.19">E</tspan><tspan class="c14" x="431.84">P</tspan><tspan class="c12" x="441.49">L</tspan><tspan class="c4" x="451.15">P</tspan><tspan class="c2" x="460.80">P</tspan><tspan class="c8" x="470.45">S</tspan><tspan class="c8" x="480.10">T</tspan><tspan class="c12" x="489.75">G</tspan><tspan class="c0" x="499.40">P</tspan><tspan class="c5" x="509.06">P</tspan><tspan class="c18" x="518.71">V</tspan><tspan class="c3" x="528.36">G</tspan><tspan class="c7" x="538.01">A</tspan><tspan class="c7" x="547.66">G</tspan><tspan class="c17" x="557.31">L</tspan><tspan class="c3" x="566.96">D</tspan><tspan class="c11" x="576.62">A</tspan><tspan class="c0" x="586.27">E</tspan><tspan class="c1" x="595.92">Q</tspan><tspan class="c13" x="605.57">R</tspan><tspan class="c0" x="615.22">T</tspan><tspan class="c1" x="624.87">V</tspan><tspan class="c1" x="634.53">F</tspan><tspan class="c9" x="644.18">A</tspan><tspan class="c0" x="653.83">F</tspan><tspan class="c0" x="663.48">V</tspan><tspan class="c3" x="673.13">L</tspan><tspan class="c11" x="682.78">C</tspan><tspan class="c0" x="692.43">L</tspan><tspan class="c1" x="702.09">L</tspan><tspan class="c3" x="711.74">V</tspan><tspan class="c13" x="721.39">V</tspan><tspan class="c5" x="731.04">L</tspan><tspan class="c13" x="740.69">V</tspan><tspan class="c10" x="750.34">L</tspan><tspan class="c0" x="760.00">L</tspan><tspan class="c3 w" x="769.65">M</tspan><tspan class="c3" x="779.30">V</tspan><tspan class="c3" x="788.95">R</tspan><tspan class="c0" x="798.60">C</tspan><tspan class="c9" x="808.25">V</tspan><tspan class="c0" x="817.90">R</tspan><tspan class="c0" x="827.56">I</tspan><tspan class="c0" x="837.21">L</tspan><tspan class="c0" x="846.86">L</tspan><tspan class="c0" x="856.51">D</tspan><tspan class="c0" x="866.16">P</tspan><tspan class="c0" x="875.81">Y</tspan><tspan class="c1" x="885.47">S</tspan><tspan class="c11" x="895.12">R</tspan><tspan class="c3 w" x="904.77">M</tspan><tspan class="c0" x="914.42">P</tspan><tspan class="c0" x="924.07">A</tspan><tspan class="c0" x="933.72">S</tspan><tspan class="c1" x="943.38">S</tspan><tspan class="c6 w" x="953.03">W</tspan><tspan class="c1" x="962.68">T</tspan><tspan class="c0" x="972.33">D</tspan><tspan class="c0" x="981.98">H</tspan><tspan class="c1" x="991.63">K</tspan><tspan class="c3" x="1001.28">E</tspan><tspan class="c9" x="1010.94">A</tspan><tspan class="c1" x="1020.59">L</tspan><tspan class="c0" x="1030.24">E</tspan><tspan class="c1" x="1039.89">R</tspan><tspan class="c0" x="1049.54">G</tspan><tspan class="c0" x="1059.19">Q</tspan><tspan class="c0" x="1068.85">F</tspan><tspan class="c0" x="1078.50">D</tspan><tspan class="c0" x="1088.15">Y</tspan><tspan class="c1" x="1097.80">A</tspan><tspan class="c1" x="1107.45">L</tspan><tspan class="c1" x="1117.10">V</tspan></text>
<text y="339.45"><tspan class="c10 w" x="335.33">M</tspan><tspan class="c8" x="344.98">S</tspan><tspan class="c19" x="354.63">A</tspan><tspan class="c20" x="364.28">T</tspan><tspan class="c13 w" x="373.93">W</tspan><tspan class="c15" x="383.59">T</tspan><tspan class="c15" x="393.24">L</tspan><tspan class="c16" x="402.89">S</tspan><tspan class="c15" x="412.54">P</tspan><tspan class="c15" x="422.19">E</tspan><tspan class="c14" x="431.84">P</tspan><tspan class="c12" x="441.49">L</tspan><tspan class="c4" x="451.15">P</tspan><tspan class="c2" x="460.80">P</tspan><tspan class="c8" x="470.45">S</tspan><tspan class="c8" x="480.10">T</tspan><tspan class="c12" x="489.75">G</tspan><tspan class="c0" x="499.40">P</tspan><tspan class="c5" x="509.06">P</tspan><tspan class="c18" x="518.71">V</tspan><tspan class="c3" x="528.36">G</tspan><tspan class="c7" x="538.01">A</tspan><tspan class="c7" x="547.66">G</tspan><tspan class="c17" x="557.31">L</tspan><tspan class="c3" x="566.96">D</tspan><tspan class="c11" x="576.62">A</tspan><tspan class="c0" x="586.27">E</tspan><tspan class="c1" x="595.92">Q</tspan><tspan class="c13" x="605.57">R</tspan><tspan class="c0" x="615.22">T</tspan><tspan class="c1" x="624.87">V</tspan><tspan class="c1" x="634.53">F</tspan><tspan class="c9" x="644.18">A</tspan><tspan class="c0" x="653.83">F</tspan><tspan class="c0" x="663.48">V</tspan><tspan class="c3" x="673.13">L</tspan><tspan class="c11" x="682.78">C</tspan><tspan class="c0" x="692.43">L</tspan><tspan class="c1" x="702.09">L</tspan><tspan class="c3" x="711.74">V</tspan><tspan class="c13 w" x="721.39">M</tspan><tspan class="c5" x="731.04">L</tspan><tspan class="c13" x="740.69">V</tspan><tspan class="c10" x="750.34">L</tspan><tspan class="c0" x="760.00">L</tspan><tspan class="c3 w" x="769.65">M</tspan><tspan class="c3" x="779.30">V</tspan><tspan class="c3" x="788.95">R</tspan><tspan class="c0" x="798.60">C</tspan><tspan class="c9" x="808.25">V</tspan><tspan class="c0" x="817.90">R</tspan><tspan class="c0" x="827.56">I</tspan><tspan class="c0" x="837.21">L</tspan><tspan class="c0" x="846.86">L</tspan><tspan class="c0" x="856.51">D</tspan><tspan class="c0" x="866.16">P</tspan><tspan class="c0" x="875.81">Y</tspan><tspan class="c1" x="885.47">S</tspan><tspan class="c11" x="895.12">R</tspan><tspan class="c3 w" x="904.77">M</tspan><tspan class="c0" x="914.42">P</tspan><tspan class="c0" x="924.07">A</tspan><tspan class="c0" x="933.72">S</tspan><tspan class="c1" x="943.38">S</tspan><tspan class="c6 w" x="953.03">W</tspan><tspan class="c1" x="962.68">T</tspan><tspan class="c0" x="972.33">D</tspan><tspan class="c0" x="981.98">H</tspan><tspan class="c1" x="991.63">K</tspan><tspan class="c3" x="1001.28">E</tspan><tspan class="c9" x="1010.94">A</tspan><tspan class="c1" x="1020.59">L</tspan><tspan class="c0" x="1030.24">E</tspan><tspan class="c1" x="1039.89">R</tspan><tspan class="c0" x="1049.54">G</tspan><tspan class="c0" x="1059.19">Q</tspan><tspan class="c0" x="1068.85">F</tspan><tspan class="c0" x="1078.50">D</tspan><tspan class="c0" x="1088.15">Y</tspan><tspan class="c1" x="1097.80">A</tspan><tspan class="c1" x="1107.45">L</tspan><tspan class="c1" x="1117.10">V</tspan></text>
<text y="360.45"><tspan class="c10 w" x="335.33">M</tspan><tspan class="c8" x="344.98">S</tspan><tspan class="c19" x="354.63">A</tspan><tspan class="c20" x="364.28">A</tspan><tspan class="c13 w" x="373.93">W</tspan><tspan class="c15" x="383.59">T</tspan><tspan class="c15" x="393.24">L</tspan><tspan class="c16" x="402.89">S</tspan><tspan class="c15" x="412.54">P</tspan><tspan class="c15" x="422.19">E</tspan><tspan class="c14" x="431.84">P</tspan><tspan class="c12" x="441.49">L</tspan><tspan class="c4" x="451.15">P</tspan><tspan class="c2" x="460.80">P</tspan><tspan class="c8" x="470.45">S</tspan><tspan class="c8" x="480.10">T</tspan><tspan class="c12" x="489.75">G</tspan><tspan class="c0" x="499.40">P</tspan><tspan class="c5" x="509.06">P</tspan><tspan class="c18" x="518.71">V</tspan><tspan class="c3" x="528.36">G</tspan><tspan class="c7" x="538.01">A</tspan><tspan class="c7" x="547.66">G</tspan><tspan class="c17" x="557.31">L</tspan><tspan class="c3" x="566.96">D</tspan><tspan class="c11" x="576.62">A</tspan><tspan class="c0" x="586.27">E</tspan><tspan class="c1" x="595.92">Q</tspan><tspan class="c13" x="605.57">R</tspan><tspan class="c0" x="615.22">T</tspan><tspan class="c1" x="624.87">V</tspan><tspan class="c1" x="634.53">F</tspan><tspan class="c9" x="644.18">A</tspan><tspan class="c0" x="653.83">F</tspan><tspan class="c0" x="663.48">V</tspan><tspan class="c3" x="673.13">L</tspan><tspan class="c11" x="682.78">C</tspan><tspan class="c0" x="692.43">L</tspan><tspan class="c1" x="702.09">L</tspan><tspan class="c3" x="711.74">V</tspan><tspan class="c13" x="721.39">V</tspan><tspan class="c5" x="731.04">L</tspan><tspan class="c13" x="740.69">V</tspan><tspan class="c10" x="750.34">L</tspan><tspan class="c0" x="760.00">L</tspan><tspan class="c3 w" x="769.65">M</tspan><tspan class="c3" x="779.30">V</tspan><tspan class="c3" x="788.95">R</tspan><tspan class="c0" x="798.60">C</tspan><tspan class="c9" x="808.25">V</tspan><tspan class="c0" x="817.90">R</tspan><tspan class="c0" x="827.56">I</tspan><tspan class="c0" x="837.21">L</tspan><tspan class="c0" x="846.86">L</tspan><tspan class="c0" x="856.51">D</tspan><tspan class="c0" x="866.16">P</tspan><tspan class="c0" x="875.81">Y</tspan><tspan class="c1" x="885.47">S</tspan><tspan class="c11" x="895.12">R</tspan><tspan class="c3 w" x="904.77">M</tspan><tspan class="c0" x="914.42">P</tspan><tspan class="c0" x="924.07">A</tspan><tspan class="c0" x="933.72">S</tspan><tspan class="c1" x="943.38">S</tspan><tspan class="c6 w" x="953.03">W</tspan><tspan class="c1" x="962.68">T</tspan><tspan class="c0" x="972.33">D</tspan><tspan class="c0" x="981.98">H</tspan><tspan class="c1" x="991.63">K</tspan><tspan class="c3" x="1001.28">E</tspan><tspan class="c9" x="1010.94">A</tspan><tspan class="c1" x="1020.59">L</tspan><tspan class="c0" x="1030.24">E</tspan><tspan class="c1" x="1039.89">R</tspan><tspan class="c0" x="1049.54">G</tspan><tspan class="c0" x="1059.19">Q</tspan><tspan class="c0" x="1068.85">F</tspan><tspan class="c0" x="1078.50">D</tspan><tspan class="c0" x="1088.15">Y</tspan><tspan class="c1" x="1097.80">A</tspan><tspan class="c1" x="1107.45">L</tspan><tspan class="c1" x="1117.10">V</tspan></text>
<text y="381.45"><tspan class="c10 w" x="335.33">M</tspan><tspan class="c8" x="344.98">S</tspan><tspan class="c19" x="354.63">T</tspan><tspan class="c20" x="364.28">T</tspan><tspan class="c13 w" x="373.93">W</tspan><tspan class="c15" x="383.59">T</tspan><tspan class="c15" x="393.24">L</tspan><tspan class="c16" x="402.89">S</tspan><tspan class="c15" x="412.54">P</tspan><tspan class="c15" x="422.19">E</tspan><tspan class="c14" x="431.84">P</tspan><tspan class="c12" x="441.49">L</tspan><tspan class="c4" x="451.15">P</tspan><tspan class="c2" x="460.80">P</tspan><tspan class="c8" x="470.45">S</tspan><tspan class="c8" x="480.10">T</tspan><tspan class="c12" x="489.75">G</tspan><tspan class="c0" x="499.40">P</tspan><tspan class="c5" x="509.06">P</tspan><tspan class="c18" x="518.71">A</tspan><tspan class="c3" x="528.36">G</tspan><tspan class="c7" x="538.01">A</tspan><tspan class="c7" x="547.66">G</tspan><tspan class="c17" x="557.31">L</tspan><tspan class="c3" x="566.96">D</tspan><tspan class="c11" x="576.62">A</tspan><tspan class="c0" x="586.27">E</tspan><tspan class="c1" x="595.92">Q</tspan><tspan class="c13" x="605.57">R</tspan><tspan class="c0" x="615.22">T</tspan><tspan class="c1" x="624.87">V</tspan><tspan class="c1" x="634.53">F</tspan><tspan class="c9" x="644.18">A</tspan><tspan class="c0" x="653.83">F</tspan><tspan class="c0" x="663.48">V</tspan><tspan class="c3" x="673.13">L</tspan><tspan class="c11" x="682.78">C</tspan><tspan class="c0" x="692.43">L</tspan><tspan class="c1" x="702.09">L</tspan><tspan class="c3" x="711.74">V</tspan><tspan class="c13" x="721.39">V</tspan><tspan class="c5" x="731.04">L</tspan><tspan class="c13" x="740.69">V</tspan><tspan class="c10" x="750.34">L</tspan><tspan class="c0" x="760.00">L</tspan><tspan class="c3 w" x="769.65">M</tspan><tspan class="c3" x="779.30">V</tspan><tspan class="c3" x="788.95">R</tspan><tspan class="c0" x="798.60">C</tspan><tspan class="c9" x="808.25">V</tspan><tspan class="c0" x="817.90">R</tspan><tspan class="c0" x="827.56">I</tspan><tspan class="c0" x="837.21">L</tspan><tspan class="c0" x="846.86">L</tspan><tspan class="c0" x="856.51">D</tspan><tspan class="c0" x="866.16">P</tspan><tspan class="c0" x="875.81">Y</tspan><tspan class="c1" x="885.47">S</tspan><tspan class="c11" x="895.12">R</tspan><tspan class="c3 w" x="904.77">M</tspan><tspan class="c0" x="914.42">P</tspan><tspan class="c0" x="924.07">A</tspan><tspan class="c0" x="933.72">S</tspan><tspan class="c1" x="943.38">S</tspan><tspan class="c6 w" x="953.03">W</tspan><tspan class="c1" x="962.68">T</tspan><tspan class="c0" x="972.33">D</tspan><tspan class="c0" x="981.98">H</tspan><tspan class="c1" x="991.63">K</tspan><tspan class="c3" x="1001.28">E</tspan><tspan class="c9" x="1010.94">A</tspan><tspan class="c1" x="1020.59">L</tspan><tspan class="c0" x="1030.24">E</tspan><tspan class="c1" x="1039.89">R</tspan><tspan class="c0" x="1049.54">G</tspan><tspan class="c0" x="1059.19">Q</tspan><tspan class="c0" x="1068.85">F</tspan><tspan class="c0" x="1078.50">D</tspan><tspan class="c0" x="1088.15">Y</tspan><tspan class="c1" x="1097.80">A</tspan><tspan class="c1" x="1107.45">L</tspan><tspan class="c1" x="1117.10">V</tspan></text>
<text y="402.45"><tspan class="c10 w" x="335.33">M</tspan><tspan class="c8" x="344.98">S</tspan><tspan class="c19" x="354.63">T</tspan><tspan class="c20" x="364.28">T</tspan><tspan class="c13 w" x="373.93">W</tspan><tspan class="c15" x="383.59">T</tspan><tspan class="c15" x="393.24">L</tspan><tspan class="c16" x="402.89">S</tspan><tspan class="c15" x="412.54">P</tspan><tspan class="c15" x="422.19">E</tspan><tspan class="c14" x="431.84">P</tspan><tspan class="c12" x="441.49">L</tspan><tspan class="c4" x="451.15">P</tspan><tspan class="c2" x="460.80">P</tspan><tspan class="c8" x="470.45">S</tspan><tspan class="c8" x="480.10">T</tspan><tspan class="c12" x="489.75">G</tspan><tspan class="c0" x="499.40">P</tspan><tspan class="c5" x="509.06">P</tspan><tspan class="c18" x="518.71">V</tspan><tspan class="c3" x="528.36">G</tspan><tspan class="c7" x="538.01">A</tspan><tspan class="c7" x="547.66">G</tspan><tspan class="c17" x="557.31">L</tspan><tspan class="c3" x="566.96">D</tspan><tspan class="c11" x="576.62">A</tspan><tspan class="c0" x="586.27">E</tspan><tspan class="c1" x="595.92">Q</tspan><tspan class="c13" x="605.57">R</tspan><tspan class="c0" x="615.22">T</tspan><tspan class="c1" x="624.87">V</tspan><tspan class="c1" x="634.53">F</tspan><tspan class="c9" x="644.18">A</tspan><tspan class="c0" x="653.83">F</tspan><tspan class="c0" x="663.48">V</tspan><tspan class="c3" x="673.13">L</tspan><tspan class="c11" x="682.78">C</tspan><tspan class="c0" x="692.43">L</tspan><tspan class="c1" x="702.09">L</tspan><tspan class="c3" x="711.74">V</tspan><tspan class="c13" x="721.39">V</tspan><tspan class="c5" x="731.04">L</tspan><tspan class="c13" x="740.69">V</tspan><tspan class="c10" x="750.34">L</tspan><tspan class="c0" x="760.00">L</tspan><tspan class="c3 w" x="769.65">M</tspan><tspan class="c3" x="779.30">V</tspan><tspan class="c3" x="788.95">R</tspan><tspan class="c0" x="798.60">C</tspan><tspan class="c9" x="808.25">V</tspan><tspan class="c0" x="817.90">R</tspan><tspan class="c0" x="827.56">I</tspan><tspan class="c0" x="837.21">L</tspan><tspan class="c0" x="846.86">L</tspan><tspan class="c0" x="856.51">D</tspan><tspan class="c0" x="866.16">P</tspan><tspan class="c0" x="875.81">Y</tspan><tspan class="c1" x="885.47">S</tspan><tspan class="c11" x="895.12">R</tspan><tspan class="c3 w" x="904.77">M</tspan><tspan class="c0" x="914.42">P</tspan><tspan class="c0" x="924.07">A</tspan><tspan class="c0" x="933.72">S</tspan><tspan class="c1" x="943.38">S</tspan><tspan class="c6 w" x="953.03">W</tspan><tspan class="c1" x="962.68">T</tspan><tspan class="c0" x="972.33">D</tspan><tspan class="c0" x="981.98">H</tspan><tspan class="c1" x="991.63">K</tspan><tspan class="c3" x="1001.28">E</tspan><tspan class="c9" x="1010.94">A</tspan><tspan class="c1" x="1020.59">L</tspan><tspan class="c0" x="1030.24">E</tspan><tspan class="c1" x="1039.89">R</tspan><tspan class="c0" x="1049.54">G</tspan><tspan class="c0" x="1059.19">Q</tspan><tspan class="c0" x="1068.85">F</tspan><tspan class="c0" x="1078.50">D</tspan><tspan class="c0" x="1088.15">Y</tspan><tspan class="c1" x="1097.80">A</tspan><tspan class="c1" x="1107.45">L</tspan><tspan class="c1" x="1117.10">V</tspan></text>
<text y="423.45"><tspan class="c10 w" x="335.33">M</tspan><tspan class="c8" x="344.98">S</tspan><tspan class="c19" x="354.63">T</tspan><tspan class="c20" x="364.28">T</tspan><tspan class="c13 w" x="373.93">W</tspan><tspan class="c15" x="383.59">T</tspan><tspan class="c15" x="393.24">L</tspan><tspan class="c16" x="402.89">S</tspan><tspan class="c15" x="412.54">P</tspan><tspan class="c15" x="422.19">E</tspan><tspan class="c14" x="431.84">P</tspan><tspan class="c12" x="441.49">L</tspan><tspan class="c4" x="451.15">P</tspan><tspan class="c2" x="460.80">P</tspan><tspan class="c8" x="470.45">S</tspan><tspan class="c8" x="480.10">T</tspan><tspan class="c12" x="489.75">G</tspan><tspan class="c0" x="499.40">P</tspan><tspan class="c5" x="509.06">P</tspan><tspan class="c18" x="518.71">A</tspan><tspan class="c3" x="528.36">G</tspan><tspan class="c7" x="538.01">V</tspan><tspan class="c7" x="547.66">G</tspan><tspan class="c17" x="557.31">L</tspan><tspan class="c3" x="566.96">D</tspan><tspan class="c11" x="576.62">A</tspan><tspan class="c0" x="586.27">E</tspan><tspan class="c1" x="595.92">Q</tspan><tspan class="c13" x="605.57">R</tspan><tspan class="c0" x="615.22">T</tspan><tspan class="c1" x="624.87">V</tspan><tspan class="c1" x="634.53">F</tspan><tspan class="c9" x="644.18">A</tspan><tspan class="c0" x="653.83">F</tspan><tspan class="c0" x="663.48">V</tspan><tspan class="c3" x="673.13">L</tspan><tspan class="c11" x="682.78">C</tspan><tspan class="c0" x="692.43">L</tspan><tspan class="c1" x="702.09">L</tspan><tspan class="c3" x="711.74">V</tspan><tspan class="c13" x="721.39">V</tspan><tspan class="c5" x="731.04">L</tspan><tspan class="c13" x="740.69">V</tspan><tspan class="c10" x="750.34">L</tspan><tspan class="c0" x="760.00">L</tspan><tspan class="c3 w" x="769.65">M</tspan><tspan class="c3" x="779.30">V</tspan><tspan class="c3" x="788.95">R</tspan><tspan class="c0" x="798.60">C</tspan><tspan class="c9" x="808.25">V</tspan><tspan class="c0" x="817.90">R</tspan><tspan class="c0" x="827.56">I</tspan><tspan class="c0" x="837.21">L</tspan><tspan class="c0" x="846.86">L</tspan><tspan class="c0" x="856.51">D</tspan><tspan class="c0" x="866.16">P</tspan><tspan class="c0" x="875.81">Y</tspan><tspan class="c1" x="885.47">S</tspan><tspan class="c11" x="895.12">R</tspan><tspan class="c3 w" x="904.77">M</tspan><tspan class="c0" x="914.42">P</tspan><tspan class="c0" x="924.07">A</tspan><tspan class="c0" x="933.72">S</tspan><tspan class="c1" x="943.38">S</tspan><tspan class="c6 w" x="953.03">W</tspan><tspan class="c1" x="962.68">T</tspan><tspan class="c0" x="972.33">D</tspan><tspan class="c0" x="981.98">H</tspan><tspan class="c1" x="991.63">K</tspan><tspan class="c3" x="1001.28">E</tspan><tspan class="c9" x="1010.94">A</tspan><tspan class="c1" x="1020.59">L</tspan><tspan class="c0" x="1030.24">E</tspan><tspan class="c1" x="1039.89">R</tspan><tspan class="c0" x="1049.54">G</tspan><tspan class="c0" x="1059.19">Q</tspan><tspan class="c0" x="1068.85">F</tspan><tspan class="c0" x="1078.50">D</tspan><tspan class="c0" x="1088.15">Y</tspan><tspan class="c1" x="1097.80">A</tspan><tspan class="c1" x="1107.45">L</tspan><tspan class="c1" x="1117.10">V</tspan></text>
<text y="444.45"><tspan class="c10 w" x="335.33">M</tspan><tspan class="c8" x="344.98">S</tspan><tspan class="c19" x="354.63">A</tspan><tspan class="c20" x="364.28">T</tspan><tspan class="c13 w" x="373.93">W</tspan><tspan class="c15" x="383.59">T</tspan><tspan class="c15" x="393.24">L</tspan><tspan class="c16" x="402.89">S</tspan><tspan class="c15" x="412.54">P</tspan><tspan class="c15" x="422.19">E</tspan><tspan class="c14" x="431.84">P</tspan><tspan class="c12" x="441.49">L</tspan><tspan class="c4" x="451.15">P</tspan><tspan class="c2" x="460.80">P</tspan><tspan class="c8" x="470.45">S</tspan><tspan class="c8" x="480.10">T</tspan><tspan class="c12" x="489.75">G</tspan><tspan class="c0" x="499.40">P</tspan><tspan class="c5" x="509.06">P</tspan><tspan class="c18" x="518.71">A</tspan><tspan class="c3" x="528.36">G</tspan><tspan class="c7" x="538.01">A</tspan><tspan class="c7" x="547.66">G</tspan><tspan class="c17" x="557.31">L</tspan><tspan class="c3" x="566.96">D</tspan><tspan class="c11" x="576.62">A</tspan><tspan class="c0" x="586.27">E</tspan><tspan class="c1" x="595.92">Q</tspan><tspan class="c13" x="605.57">R</tspan><tspan class="c0" x="615.22">T</tspan><tspan class="c1" x="624.87">V</tspan><tspan class="c1" x="634.53">F</tspan><tspan class="c9" x="644.18">A</tspan><tspan class="c0" x="653.83">F</tspan><tspan class="c0" x="663.48">V</tspan><tspan class="c3" x="673.13">L</tspan><tspan class="c11" x="682.78">C</tspan><tspan class="c0" x="692.43">L</tspan><tspan class="c1" x="702.09">L</tspan><tspan class="c3" x="711.74">V</tspan><tspan class="c13" x="721.39">V</tspan><tspan class="c5" x="731.04">L</tspan><tspan class="c13" x="740.69">A</tspan><tspan class="c10" x="750.34">L</tspan><tspan class="c0" x="760.00">L</tspan><tspan class="c3 w" x="769.65">M</tspan><tspan class="c3" x="779.30">V</tspan><tspan class="c3" x="788.95">R</tspan><tspan class="c0" x="798.60">C</tspan><tspan class="c9" x="808.25">V</tspan><tspan class="c0" x="817.90">R</tspan><tspan class="c0" x="827.56">I</tspan><tspan class="c0" x="837.21">L</tspan><tspan class="c0" x="846.86">L</tspan><tspan class="c0" x="856.51">D</tspan><tspan class="c0" x="866.16">P</tspan><tspan class="c0" x="875.81">Y</tspan><tspan class="c1" x="885.47">S</tspan><tspan class="c11" x="895.12">R</tspan><tspan class="c3 w" x="904.77">M</tspan><tspan class="c0" x="914.42">P</tspan><tspan class="c0" x="924.07">A</tspan><tspan class="c0" x="933.72">S</tspan><tspan class="c1" x="943.38">S</tspan><tspan class="c6 w" x="953.03">W</tspan><tspan class="c1" x="962.68">T</tspan><tspan class="c0" x="972.33">D</tspan><tspan class="c0" x="981.98">H</tspan><tspan class="c1" x="991.63">K</tspan><tspan class="c3" x="1001.28">E</tspan><tspan class="c9" x="1010.94">A</tspan><tspan class="c1" x="1020.59">L</tspan><tspan class="c0" x="1030.24">E</tspan><tspan class="c1" x="1039.89">R</tspan><tspan class="c0" x="1049.54">G</tspan><tspan class="c0" x="1059.19">Q</tspan><tspan class="c0" x="1068.85">F</tspan><tspan class="c0" x="1078.50">D</tspan><tspan class="c0" x="1088.15">Y</tspan><tspan class="c1" x="1097.80">A</tspan><tspan class="c1" x="1107.45">L</tspan><tspan class="c1" x="1117.10">V</tspan></text>
<text y="465.45"><tspan class="c10 w" x="335.33">M</tspan><tspan class="c8" x="344.98">S</tspan><tspan class="c19" x="354.63">A</tspan><tspan class="c20" x="364.28">P</tspan><tspan class="c13 w" x="373.93">W</tspan><tspan class="c15" x="383.59">T</tspan><tspan class="c15" x="393.24">L</tspan><tspan class="c16" x="402.89">S</tspan><tspan class="c15" x="412.54">P</tspan><tspan class="c15" x="422.19">E</tspan><tspan class="c14" x="431.84">P</tspan><tspan class="c12" x="441.49">L</tspan><tspan class="c4" x="451.15">P</tspan><tspan class="c2" x="460.80">P</tspan><tspan class="c8" x="470.45">S</tspan><tspan class="c8" x="480.10">T</tspan><tspan class="c12" x="489.75">G</tspan><tspan class="c0" x="499.40">P</tspan><tspan class="c5" x="509.06">P</tspan><tspan class="c18" x="518.71">V</tspan><tspan class="c3" x="528.36">G</tspan><tspan class="c7" x="538.01">A</tspan><tspan class="c7" x="547.66">G</tspan><tspan class="c17" x="557.31">L</tspan><tspan class="c3" x="566.96">D</tspan><tspan class="c11" x="576.62">V</tspan><tspan class="c0" x="586.27">E</tspan><tspan class="c1" x="595.92">Q</tspan><tspan class="c13" x="605.57">R</tspan><tspan class="c0" x="615.22">T</tspan><tspan class="c1" x="624.87">V</tspan><tspan class="c1" x="634.53">F</tspan><tspan class="c9" x="644.18">A</tspan><tspan class="c0" x="653.83">F</tspan><tspan class="c0" x="663.48">V</tspan><tspan class="c3" x="673.13">L</tspan><tspan class="c11" x="682.78">C</tspan><tspan class="c0" x="692.43">L</tspan><tspan class="c1" x="702.09">L</tspan><tspan class="c3" x="711.74">V</tspan><tspan class="c13" x="721.39">V</tspan><tspan class="c5" x="731.04">L</tspan><tspan class="c13" x="740.69">V</tspan><tspan class="c10" x="750.34">L</tspan><tspan class="c0" x="760.00">L</tspan><tspan class="c3 w" x="769.65">M</tspan><tspan class="c3" x="779.30">V</tspan><tspan class="c3" x="788.95">R</tspan><tspan class="c0" x="798.60">C</tspan><tspan class="c9" x="808.25">V</tspan><tspan class="c0" x="817.90">R</tspan><tspan class="c0" x="827.56">I</tspan><tspan class="c0" x="837.21">L</tspan><tspan class="c0" x="846.86">L</tspan><tspan class="c0" x="856.51">D</tspan><tspan class="c0" x="866.16">P</tspan><tspan class="c0" x="875.81">Y</tspan><tspan class="c1" x="885.47">S</tspan><tspan class="c11" x="895.12">R</tspan><tspan class="c3 w" x="904.77">M</tspan><tspan class="c0" x="914.42">P</tspan><tspan class="c0" x="924.07">A</tspan><tspan class="c0" x="933.72">S</tspan><tspan class="c1" x="943.38">S</tspan><tspan class="c6 w" x="953.03">W</tspan><tspan class="c1" x="962.68">T</tspan><tspan class="c0" x="972.33">D</tspan><tspan class="c0" x="981.98">H</tspan><tspan class="c1" x="991.63">K</tspan><tspan class="c3" x="1001.28">E</tspan><tspan class="c9" x="1010.94">A</tspan><tspan class="c1" x="1020.59">L</tspan><tspan class="c0" x="1030.24">E</tspan><tspan class="c1" x="1039.89">R</tspan><tspan class="c0" x="1049.54">G</tspan><tspan class="c0" x="1059.19">Q</tspan><tspan class="c0" x="1068.85">F</tspan><tspan class="c0" x="1078.50">D</tspan><tspan class="c0" x="1088.15">Y</tspan><tspan class="c1" x="1097.80">A</tspan><tspan class="c1" x="1107.45">L</tspan><tspan class="c1" x="1117.10">V</tspan></text>
<text y="486.45"><tspan class="c10 w" x="335.33">M</tspan><tspan class="c8" x="344.98">S</tspan><tspan class="c19" x="354.63">S</tspan><tspan class="c20" x="364.28">A</tspan><tspan class="c13 w" x="373.93">W</tspan><tspan class="c15" x="383.59">T</tspan><tspan class="c15" x="393.24">L</tspan><tspan class="c16" x="402.89">S</tspan><tspan class="c15" x="412.54">P</tspan><tspan class="c15" x="422.19">E</tspan><tspan class="c14" x="431.84">P</tspan><tspan class="c12" x="441.49">L</tspan><tspan class="c4" x="451.15">P</tspan><tspan class="c2" x="460.80">P</tspan><tspan class="c8" x="470.45">S</tspan><tspan class="c8" x="480.10">T</tspan><tspan class="c12" x="489.75">G</tspan><tspan class="c0" x="499.40">P</tspan><tspan class="c5" x="509.06">P</tspan><tspan class="c18" x="518.71">V</tspan><tspan class="c3" x="528.36">G</tspan><tspan class="c7" x="538.01">A</tspan><tspan class="c7" x="547.66">G</tspan><tspan class="c17" x="557.31">L</tspan><tspan class="c3" x="566.96">D</tspan><tspan class="c11" x="576.62">V</tspan><tspan class="c0" x="586.27">E</tspan><tspan class="c1" x="595.92">Q</tspan><tspan class="c13" x="605.57">R</tspan><tspan class="c0" x="615.22">T</tspan><tspan class="c1" x="624.87">V</tspan><tspan class="c1" x="634.53">F</tspan><tspan class="c9" x="644.18">A</tspan><tspan class="c0" x="653.83">F</tspan><tspan class="c0" x="663.48">V</tspan><tspan class="c3" x="673.13">L</tspan><tspan class="c11" x="682.78">C</tspan><tspan class="c0" x="692.43">L</tspan><tspan class="c1" x="702.09">L</tspan><tspan class="c3" x="711.74">V</tspan><tspan class="c13" x="721.39">V</tspan><tspan class="c5" x="731.04">L</tspan><tspan class="c13" x="740.69">V</tspan><tspan class="c10" x="750.34">L</tspan><tspan class="c0" x="760.00">L</tspan><tspan class="c3 w" x="769.65">M</tspan><tspan class="c3" x="779.30">V</tspan><tspan class="c3" x="788.95">R</tspan><tspan class="c0" x="798.60">C</tspan><tspan class="c9" x="808.25">V</tspan><tspan class="c0" x="817.90">R</tspan><tspan class="c0" x="827.56">I</tspan><tspan class="c0" x="837.21">L</tspan><tspan class="c0" x="846.86">L</tspan><tspan class="c0" x="856.51">D</tspan><tspan class="c0" x="866.16">P</tspan><tspan class="c0" x="875.81">Y</tspan><tspan class="c1" x="885.47">S</tspan><tspan class="c11" x="895.12">R</tspan><tspan class="c3 w" x="904.77">M</tspan><tspan class="c0" x="914.42">P</tspan><tspan class="c0" x="924.07">A</tspan><tspan class="c0" x="933.72">S</tspan><tspan class="c1" x="943.38">S</tspan><tspan class="c6 w" x="953.03">W</tspan><tspan class="c1" x="962.68">T</tspan><tspan class="c0" x="972.33">D</tspan><tspan class="c0" x="981.98">H</tspan><tspan class="c1" x="991.63">K</tspan><tspan class="c3" x="1001.28">E</tspan><tspan class="c9" x="1010.94">A</tspan><tspan class="c1" x="1020.59">L</tspan><tspan class="c0" x="1030.24">E</tspan><tspan class="c1" x="1039.89">R</tspan><tspan class="c0" x="1049.54">G</tspan><tspan class="c0" x="1059.19">Q</tspan><tspan class="c0" x="1068.85">F</tspan><tspan class="c0" x="1078.50">D</tspan><tspan class="c0" x="1088.15">Y</tspan><tspan class="c1" x="1097.80">A</tspan><tspan class="c1" x="1107.45">L</tspan><tspan class="c1" x="1117.10">V</tspan></text>
<text y="507.45"><tspan class="c10 w" x="335.33">M</tspan><tspan class="c8" x="344.98">S</tspan><tspan class="c19" x="354.63">A</tspan><tspan class="c20" x="364.28">P</tspan><tspan class="c13 w" x="373.93">W</tspan><tspan class="c15" x="383.59">T</tspan><tspan class="c15" x="393.24">L</tspan><tspan class="c16" x="402.89">S</tspan><tspan class="c15" x="412.54">P</tspan><tspan class="c15" x="422.19">E</tspan><tspan class="c14" x="431.84">P</tspan><tspan class="c12" x="441.49">L</tspan><tspan class="c4" x="451.15">P</tspan><tspan class="c2" x="460.80">P</tspan><tspan class="c8" x="470.45">S</tspan><tspan class="c8" x="480.10">T</tspan><tspan class="c12" x="489.75">G</tspan><tspan class="c0" x="499.40">P</tspan><tspan class="c5" x="509.06">P</tspan><tspan class="c18" x="518.71">G</tspan><tspan class="c3" x="528.36">G</tspan><tspan class="c7" x="538.01">A</tspan><tspan class="c7" x="547.66">G</tspan><tspan class="c17" x="557.31">L</tspan><tspan class="c3" x="566.96">D</tspan><tspan class="c11" x="576.62">A</tspan><tspan class="c0" x="586.27">E</tspan><tspan class="c1" x="595.92">Q</tspan><tspan class="c13" x="605.57">R</tspan><tspan class="c0" x="615.22">T</tspan><tspan class="c1" x="624.87">V</tspan><tspan class="c1" x="634.53">F</tspan><tspan class="c9" x="644.18">A</tspan><tspan class="c0" x="653.83">F</tspan><tspan class="c0" x="663.48">V</tspan><tspan class="c3" x="673.13">L</tspan><tspan class="c11" x="682.78">C</tspan><tspan class="c0" x="692.43">L</tspan><tspan class="c1" x="702.09">L</tspan><tspan class="c3" x="711.74">V</tspan><tspan class="c13" x="721.39">V</tspan><tspan class="c5" x="731.04">L</tspan><tspan class="c13" x="740.69">V</tspan><tspan class="c10" x="750.34">L</tspan><tspan class="c0" x="760.00">L</tspan><tspan class="c3 w" x="769.65">M</tspan><tspan class="c3" x="779.30">V</tspan><tspan class="c3" x="788.95">R</tspan><tspan class="c0" x="798.60">C</tspan><tspan class="c9" x="808.25">V</tspan><tspan class="c0" x="817.90">R</tspan><tspan class="c0" x="827.56">I</tspan><tspan class="c0" x="837.21">L</tspan><tspan class="c0" x="846.86">L</tspan><tspan class="c0" x="856.51">D</tspan><tspan class="c0" x="866.16">P</tspan><tspan class="c0" x="875.81">Y</tspan><tspan class="c1" x="885.47">S</tspan><tspan class="c11" x="895.12">R</tspan><tspan class="c3 w" x="904.77">M</tspan><tspan class="c0" x="914.42">P</tspan><tspan class="c0" x="924.07">A</tspan><tspan class="c0" x="933.72">S</tspan><tspan class="c1" x="943.38">S</tspan><tspan class="c6 w" x="953.03">W</tspan><tspan class="c1" x="962.68">T</tspan><tspan class="c0" x="972.33">D</tspan><tspan class="c0" x="981.98">H</tspan><tspan class="c1" x="991.63">K</tspan><tspan class="c3" x="1001.28">E</tspan><tspan class="c9" x="1010.94">A</tspan><tspan class="c1" x="1020.59">L</tspan><tspan class="c0" x="1030.24">E</tspan><tspan class="c1" x="1039.89">R</tspan><tspan class="c0" x="1049.54">G</tspan><tspan class="c0" x="1059.19">Q</tspan><tspan class="c0" x="1068.85">F</tspan><tspan class="c0" x="1078.50">D</tspan><tspan class="c0" x="1088.15">Y</tspan><tspan class="c1" x="1097.80">A</tspan><tspan class="c1" x="1107.45">L</tspan><tspan class="c1" x="1117.10">V</tspan></text>
<text y="528.45"><tspan class="c10 w" x="335.33">M</tspan><tspan class="c8" x="344.98">S</tspan><tspan class="c19" x="354.63">A</tspan><tspan class="c20" x="364.28">T</tspan><tspan class="c13 w" x="373.93">W</tspan><tspan class="c15" x="383.59">T</tspan><tspan class="c15" x="393.24">L</tspan><tspan class="c16" x="402.89">S</tspan><tspan class="c15" x="412.54">P</tspan><tspan class="c15" x="422.19">E</tspan><tspan class="c14" x="431.84">P</tspan><tspan class="c12" x="441.49">L</tspan><tspan class="c4" x="451.15">P</tspan><tspan class="c2" x="460.80">P</tspan><tspan class="c8" x="470.45">S</tspan><tspan class="c8" x="480.10">T</tspan><tspan class="c12" x="489.75">G</tspan><tspan class="c0" x="499.40">P</tspan><tspan class="c5" x="509.06">P</tspan><tspan class="c18" x="518.71">V</tspan><tspan class="c3" x="528.36">G</tspan><tspan class="c7" x="538.01">A</tspan><tspan class="c7" x="547.66">G</tspan><tspan class="c17" x="557.31">L</tspan><tspan class="c3" x="566.96">D</tspan><tspan class="c11" x="576.62">A</tspan><tspan class="c0" x="586.27">E</tspan><tspan class="c1" x="595.92">Q</tspan><tspan class="c13" x="605.57">R</tspan><tspan class="c0" x="615.22">T</tspan><tspan class="c1" x="624.87">V</tspan><tspan class="c1" x="634.53">F</tspan><tspan class="c9" x="644.18">A</tspan><tspan class="c0" x="653.83">F</tspan><tspan class="c0" x="663.48">V</tspan><tspan class="c3" x="673.13">L</tspan><tspan class="c11" x="682.78">C</tspan><tspan class="c0" x="692.43">L</tspan><tspan class="c1" x="702.09">L</tspan><tspan class="c3" x="711.74">V</tspan><tspan class="c13" x="721.39">V</tspan><tspan class="c5" x="731.04">K</tspan><tspan class="c13" x="740.69">K</tspan><tspan class="c10" x="750.34">K</tspan><tspan class="c0" x="760.00">L</tspan><tspan class="c3 w" x="769.65">M</tspan><tspan class="c3" x="779.30">V</tspan><tspan class="c3" x="788.95">R</tspan><tspan class="c0" x="798.60">C</tspan><tspan class="c9" x="808.25">V</tspan><tspan class="c0" x="817.90">R</tspan><tspan class="c0" x="827.56">I</tspan><tspan class="c0" x="837.21">L</tspan><tspan class="c0" x="846.86">L</tspan><tspan class="c0" x="856.51">D</tspan><tspan class="c0" x="866.16">P</tspan><tspan class="c0" x="875.81">Y</tspan><tspan class="c1" x="885.47">S</tspan><tspan class="c11" x="895.12">R</tspan><tspan class="c3 w" x="904.77">M</tspan><tspan class="c0" x="914.42">P</tspan><tspan class="c0" x="924.07">A</tspan><tspan class="c0" x="933.72">S</tspan><tspan class="c1" x="943.38">S</tspan><tspan class="c6 w" x="953.03">W</tspan><tspan class="c1" x="962.68">T</tspan><tspan class="c0" x="972.33">D</tspan><tspan class="c0" x="981.98">H</tspan><tspan class="c1" x="991.63">K</tspan><tspan class="c3" x="1001.28">E</tspan><tspan class="c9" x="1010.94">A</tspan><tspan class="c1" x="1020.59">L</tspan><tspan class="c0" x="1030.24">E</tspan><tspan class="c1" x="1039.89">R</tspan><tspan class="c0" x="1049.54">G</tspan><tspan class="c0" x="1059.19">Q</tspan><tspan class="c0" x="1068.85">F</tspan><tspan class="c0" x="1078.50">D</tspan><tspan class="c0" x="1088.15">Y</tspan><tspan class="c1" x="1097.80">A</tspan><tspan class="c1" x="1107.45">L</tspan><tspan class="c1" x="1117.10">V</tspan></text>
<text y="549.45"><tspan class="c10" x="335.33">V</tspan><tspan class="c8" x="344.98">G</tspan><tspan class="c19" x="354.63">V</tspan><tspan class="c20" x="364.28">G</tspan><tspan class="c13 w" x="373.93">W</tspan><tspan class="c15" x="383.59">A</tspan><tspan class="c15" x="393.24">R</tspan><tspan class="c16" x="402.89">S</tspan><tspan class="c15" x="412.54">P</tspan><tspan class="c15" x="422.19">E</tspan><tspan class="c14" x="431.84">P</tspan><tspan class="c12" x="441.49">L</tspan><tspan class="c4" x="451.15">P</tspan><tspan class="c2" x="460.80">P</tspan><tspan class="c8" x="470.45">S</tspan><tspan class="c8" x="480.10">T</tspan><tspan class="c12" x="489.75">G</tspan><tspan class="c0" x="499.40">P</tspan><tspan class="c5" x="509.06">P</tspan><tspan class="c18" x="518.71">V</tspan><tspan class="c3" x="528.36">G</tspan><tspan class="c7" x="538.01">A</tspan><tspan class="c7" x="547.66">G</tspan><tspan class="c17" x="557.31">L</tspan><tspan class="c3" x="566.96">D</tspan><tspan class="c11" x="576.62">A</tspan><tspan class="c0" x="586.27">E</tspan><tspan class="c1" x="595.92">Q</tspan><tspan class="c13" x="605.57">R</tspan><tspan class="c0" x="615.22">T</tspan><tspan class="c1" x="624.87">V</tspan><tspan class="c1" x="634.53">F</tspan><tspan class="c9" x="644.18">A</tspan><tspan class="c0" x="653.83">F</tspan><tspan class="c0" x="663.48">V</tspan><tspan class="c3" x="673.13">L</tspan><tspan class="c11" x="682.78">C</tspan><tspan class="c0" x="692.43">L</tspan><tspan class="c1" x="702.09">L</tspan><tspan class="c3" x="711.74">V</tspan><tspan class="c13" x="721.39">V</tspan><tspan class="c5" x="731.04">L</tspan><tspan class="c13" x="740.69">V</tspan><tspan class="c10" x="750.34">L</tspan><tspan class="c0" x="760.00">L</tspan><tspan class="c3 w" x="769.65">M</tspan><tspan class="c3" x="779.30">V</tspan><tspan class="c3" x="788.95">R</tspan><tspan class="c0" x="798.60">C</tspan><tspan class="c9" x="808.25">V</tspan><tspan class="c0" x="817.90">R</tspan><tspan class="c0" x="827.56">I</tspan><tspan class="c0" x="837.21">L</tspan><tspan class="c0" x="846.86">L</tspan><tspan class="c0" x="856.51">D</tspan><tspan class="c0" x="866.16">P</tspan><tspan class="c0" x="875.81">Y</tspan><tspan class="c1" x="885.47">S</tspan><tspan class="c11" x="895.12">R</tspan><tspan class="c3 w" x="904.77">M</tspan><tspan class="c0" x="914.42">P</tspan><tspan class="c0" x="924.07">A</tspan><tspan class="c0" x="933.72">S</tspan><tspan class="c1" x="943.38">S</tspan><tspan class="c6 w" x="953.03">W</tspan><tspan class="c1" x="962.68">T</tspan><tspan class="c0" x="972.33">D</tspan><tspan class="c0" x="981.98">H</tspan><tspan class="c1" x="991.63">K</tspan><tspan class="c3" x="1001.28">E</tspan><tspan class="c9" x="1010.94">A</tspan><tspan class="c1" x="1020.59">L</tspan><tspan class="c0" x="1030.24">E</tspan><tspan class="c1" x="1039.89">R</tspan><tspan class="c0" x="1049.54">G</tspan><tspan class="c0" x="1059.19">Q</tspan><tspan class="c0" x="1068.85">F</tspan><tspan class="c0" x="1078.50">D</tspan><tspan class="c0" x="1088.15">Y</tspan><tspan class="c1" x="1097.80">A</tspan><tspan class="c1" x="1107.45">L</tspan><tspan class="c1" x="1117.10">V</tspan></text>
<text y="570.45"><tspan class="c10 w" x="335.33">M</tspan><tspan class="c8" x="344.98">S</tspan><tspan class="c19" x="354.63">A</tspan><tspan class="c20" x="364.28">T</tspan><tspan class="c13 w" x="373.93">W</tspan><tspan class="c15" x="383.59">T</tspan><tspan class="c15" x="393.24">L</tspan><tspan class="c16" x="402.89">S</tspan><tspan class="c15" x="412.54">P</tspan><tspan class="c15" x="422.19">E</tspan><tspan class="c14" x="431.84">P</tspan><tspan class="c12" x="441.49">L</tspan><tspan class="c4" x="451.15">P</tspan><tspan class="c2" x="460.80">P</tspan><tspan class="c8" x="470.45">A</tspan><tspan class="c8" x="480.10">T</tspan><tspan class="c12" x="489.75">G</tspan><tspan class="c0" x="499.40">P</tspan><tspan class="c5" x="509.06">Q</tspan><tspan class="c18" x="518.71">V</tspan><tspan class="c3" x="528.36">G</tspan><tspan class="c7" x="538.01">A</tspan><tspan class="c7" x="547.66">G</tspan><tspan class="c17" x="557.31">L</tspan><tspan class="c3" x="566.96">D</tspan><tspan class="c11" x="576.62">A</tspan><tspan class="c0" x="586.27">E</tspan><tspan class="c1" x="595.92">Q</tspan><tspan class="c13" x="605.57">R</tspan><tspan class="c0" x="615.22">T</tspan><tspan class="c1" x="624.87">V</tspan><tspan class="c1" x="634.53">F</tspan><tspan class="c9" x="644.18">A</tspan><tspan class="c0" x="653.83">F</tspan><tspan class="c0" x="663.48">V</tspan><tspan class="c3" x="673.13">L</tspan><tspan class="c11" x="682.78">C</tspan><tspan class="c0" x="692.43">L</tspan><tspan class="c1" x="702.09">L</tspan><tspan class="c3" x="711.74">V</tspan><tspan class="c13" x="721.39">V</tspan><tspan class="c5" x="731.04">L</tspan><tspan class="c13" x="740.69">V</tspan><tspan class="c10" x="750.34">L</tspan><tspan class="c0" x="760.00">L</tspan><tspan class="c3 w" x="769.65">M</tspan><tspan class="c3" x="779.30">V</tspan><tspan class="c3" x="788.95">R</tspan><tspan class="c0" x="798.60">C</tspan><tspan class="c9" x="808.25">V</tspan><tspan class="c0" x="817.90">R</tspan><tspan class="c0" x="827.56">I</tspan><tspan class="c0" x="837.21">L</tspan><tspan class="c0" x="846.86">L</tspan><tspan class="c0" x="856.51">D</tspan><tspan class="c0" x="866.16">P</tspan><tspan class="c0" x="875.81">Y</tspan><tspan class="c1" x="885.47">S</tspan><tspan class="c11" x="895.12">R</tspan><tspan class="c3 w" x="904.77">M</tspan><tspan class="c0" x="914.42">P</tspan><tspan class="c0" x="924.07">A</tspan><tspan class="c0" x="933.72">S</tspan><tspan class="c1" x="943.38">S</tspan><tspan class="c6 w" x="953.03">W</tspan><tspan class="c1" x="962.68">T</tspan><tspan class="c0" x="972.33">D</tspan><tspan class="c0" x="981.98">H</tspan><tspan class="c1" x="991.63">K</tspan><tspan class="c3" x="1001.28">E</tspan><tspan class="c9" x="1010.94">A</tspan><tspan class="c1" x="1020.59">L</tspan><tspan class="c0" x="1030.24">E</tspan><tspan class="c1" x="1039.89">R</tspan><tspan class="c0" x="1049.54">G</tspan><tspan class="c0" x="1059.19">Q</tspan><tspan class="c0" x="1068.85">F</tspan><tspan class="c0" x="1078.50">D</tspan><tspan class="c0" x="1088.15">Y</tspan><tspan class="c1" x="1097.80">A</tspan><tspan class="c1" x="1107.45">L</tspan><tspan class="c1" x="1117.10">V</tspan></text>
<text y="591.45"><tspan class="c10 w" x="335.33">M</tspan><tspan class="c8" x="344.98">S</tspan><tspan class="c19" x="354.63">A</tspan><tspan class="c20" x="364.28">T</tspan><tspan class="c13 w" x="373.93">W</tspan><tspan class="c15" x="383.59">T</tspan><tspan class="c15" x="393.24">L</tspan><tspan class="c16" x="402.89">S</tspan><tspan class="c15" x="412.54">P</tspan><tspan class="c15" x="422.19">E</tspan><tspan class="c14" x="431.84">P</tspan><tspan class="c12" x="441.49">L</tspan><tspan class="c4" x="451.15">P</tspan><tspan class="c2" x="460.80">P</tspan><tspan class="c8" x="470.45">S</tspan><tspan class="c8" x="480.10">T</tspan><tspan class="c12" x="489.75">G</tspan><tspan class="c0" x="499.40">P</tspan><tspan class="c5" x="509.06">P</tspan><tspan class="c18" x="518.71">V</tspan><tspan class="c3" x="528.36">G</tspan><tspan class="c7" x="538.01">A</tspan><tspan class="c7" x="547.66">G</tspan><tspan class="c17" x="557.31">L</tspan><tspan class="c3" x="566.96">D</tspan><tspan class="c11" x="576.62">A</tspan><tspan class="c0" x="586.27">E</tspan><tspan class="c1" x="595.92">Q</tspan><tspan class="c13" x="605.57">R</tspan><tspan class="c0" x="615.22">T</tspan><tspan class="c1" x="624.87">V</tspan><tspan class="c1" x="634.53">F</tspan><tspan class="c9" x="644.18">A</tspan><tspan class="c0" x="653.83">F</tspan><tspan class="c0" x="663.48">V</tspan><tspan class="c3" x="673.13">L</tspan><tspan class="c11" x="682.78">C</tspan><tspan class="c0" x="692.43">L</tspan><tspan class="c1" x="702.09">L</tspan><tspan class="c3" x="711.74">V</tspan><tspan class="c13" x="721.39">V</tspan><tspan class="c5" x="731.04">L</tspan><tspan class="c13" x="740.69">V</tspan><tspan class="c10" x="750.34">L</tspan><tspan class="c0" x="760.00">L</tspan><tspan class="c3 w" x="769.65">M</tspan><tspan class="c3" x="779.30">V</tspan><tspan class="c3" x="788.95">R</tspan><tspan class="c0" x="798.60">C</tspan><tspan class="c9" x="808.25">V</tspan><tspan class="c0" x="817.90">R</tspan><tspan class="c0" x="827.56">I</tspan><tspan class="c0" x="837.21">L</tspan><tspan class="c0" x="846.86">L</tspan><tspan class="c0" x="856.51">D</tspan><tspan class="c0" x="866.16">P</tspan><tspan class="c0" x="875.81">Y</tspan><tspan class="c1" x="885.47">S</tspan><tspan class="c11" x="895.12">R</tspan><tspan class="c3 w" x="904.77">M</tspan><tspan class="c0" x="914.42">P</tspan><tspan class="c0" x="924.07">A</tspan><tspan class="c0" x="933.72">S</tspan><tspan class="c1" x="943.38">A</tspan><tspan class="c6" x="953.03">R</tspan><tspan class="c1" x="962.68">T</tspan><tspan class="c0" x="972.33">D</tspan><tspan class="c0" x="981.98">H</tspan><tspan class="c1" x="991.63">K</tspan><tspan class="c3" x="1001.28">K</tspan><tspan class="c9" x="1010.94">A</tspan><tspan class="c1" x="1020.59">L</tspan><tspan class="c0" x="1030.24">E</tspan><tspan class="c1" x="1039.89">R</tspan><tspan class="c0" x="1049.54">G</tspan><tspan class="c0" x="1059.19">Q</tspan><tspan class="c0" x="1068.85">F</tspan><tspan class="c0" x="1078.50">D</tspan><tspan class="c0" x="1088.15">Y</tspan><tspan class="c1" x="1097.80">R</tspan><tspan class="c1" x="1107.45">L</tspan><tspan class="c1" x="1117.10">X</tspan></text>
<text y="612.45"><tspan class="c10 w" x="335.33">M</tspan><tspan class="c8" x="344.98">S</tspan><tspan class="c19" x="354.63">A</tspan><tspan class="c20" x="364.28">A</tspan><tspan class="c13 w" x="373.93">W</tspan><tspan class="c15" x="383.59">T</tspan><tspan class="c15" x="393.24">L</tspan><tspan class="c16" x="402.89">S</tspan><tspan class="c15" x="412.54">R</tspan><tspan class="c15" x="422.19">E</tspan><tspan class="c14" x="431.84">S</tspan><tspan class="c12" x="441.49">L</tspan><tspan class="c4" x="451.15">P</tspan><tspan class="c2" x="460.80">Q</tspan><tspan class="c8" x="470.45">S</tspan><tspan class="c8" x="480.10">T</tspan><tspan class="c12" x="489.75">G</tspan><tspan class="c0" x="499.40">P</tspan><tspan class="c5" x="509.06">P</tspan><tspan class="c18" x="518.71">V</tspan><tspan class="c3" x="528.36">G</tspan><tspan class="c7" x="538.01">A</tspan><tspan class="c7" x="547.66">G</tspan><tspan class="c17" x="557.31">L</tspan><tspan class="c3" x="566.96">D</tspan><tspan class="c11" x="576.62">A</tspan><tspan class="c0" x="586.27">E</tspan><tspan class="c1" x="595.92">Q</tspan><tspan class="c13" x="605.57">R</tspan><tspan class="c0" x="615.22">T</tspan><tspan class="c1" x="624.87">V</tspan><tspan class="c1" x="634.53">F</tspan><tspan class="c9" x="644.18">A</tspan><tspan class="c0" x="653.83">F</tspan><tspan class="c0" x="663.48">V</tspan><tspan class="c3" x="673.13">L</tspan><tspan class="c11" x="682.78">C</tspan><tspan class="c0" x="692.43">L</tspan><tspan class="c1" x="702.09">L</tspan><tspan class="c3" x="711.74">V</tspan><tspan class="c13" x="721.39">V</tspan><tspan class="c5" x="731.04">L</tspan><tspan class="c13" x="740.69">V</tspan><tspan class="c10" x="750.34">L</tspan><tspan class="c0" x="760.00">L</tspan><tspan class="c3 w" x="769.65">M</tspan><tspan class="c3" x="779.30">V</tspan><tspan class="c3" x="788.95">G</tspan><tspan class="c0" x="798.60">C</tspan><tspan class="c9" x="808.25">V</tspan><tspan class="c0" x="817.90">R</tspan><tspan class="c0" x="827.56">I</tspan><tspan class="c0" x="837.21">L</tspan><tspan class="c0" x="846.86">L</tspan><tspan class="c0" x="856.51">D</tspan><tspan class="c0" x="866.16">P</tspan><tspan class="c0" x="875.81">Y</tspan><tspan class="c1" x="885.47">S</tspan><tspan class="c11" x="895.12">R</tspan><tspan class="c3 w" x="904.77">M</tspan><tspan class="c0" x="914.42">P</tspan><tspan class="c0" x="924.07">A</tspan><tspan class="c0" x="933.72">S</tspan><tspan class="c1" x="943.38">S</tspan><tspan class="c6 w" x="953.03">W</tspan><tspan class="c1" x="962.68">T</tspan><tspan class="c0" x="972.33">D</tspan><tspan class="c0" x="981.98">H</tspan><tspan class="c1" x="991.63">K</tspan><tspan class="c3" x="1001.28">E</tspan><tspan class="c9" x="1010.94">A</tspan><tspan class="c1" x="1020.59">L</tspan><tspan class="c0" x="1030.24">E</tspan><tspan class="c1" x="1039.89">R</tspan><tspan class="c0" x="1049.54">G</tspan><tspan class="c0" x="1059.19">Q</tspan><tspan class="c0" x="1068.85">F</tspan><tspan class="c0" x="1078.50">D</tspan><tspan class="c0" x="1088.15">Y</tspan><tspan class="c1" x="1097.80">A</tspan><tspan class="c1" x="1107.45">L</tspan><tspan class="c1" x="1117.10">V</tspan></text>
<text y="633.45"><tspan class="c10" x="335.33">L</tspan><tspan class="c8 w" x="344.98">M</tspan><tspan class="c19" x="354.63">S</tspan><tspan class="c20" x="364.28">P</tspan><tspan class="c13" x="373.93">S</tspan><tspan class="c15" x="383.59">S</tspan><tspan class="c15" x="393.24">S</tspan><tspan class="c16" x="402.89">S</tspan><tspan class="c15" x="412.54">L</tspan><tspan class="c15" x="422.19">P</tspan><tspan class="c14" x="431.84">S</tspan><tspan class="c12" x="441.49">S</tspan><tspan class="c4" x="451.15">P</tspan><tspan class="c2" x="460.80">G</tspan><tspan class="c8" x="470.45">S</tspan><tspan class="c8" x="480.10">S</tspan><tspan class="c12" x="489.75">P</tspan><tspan class="c0" x="499.40">P</tspan><tspan class="c5" x="509.06">L</tspan><tspan class="c18" x="518.71">A</tspan><tspan class="c3" x="528.36">L</tspan><tspan class="c7" x="538.01">V</tspan><tspan class="c7" x="547.66">A</tspan><tspan class="c17" x="557.31">V</tspan><tspan class="c3" x="566.96">D</tspan><tspan class="c11" x="576.62">T</tspan><tspan class="c0" x="586.27">E</tspan><tspan class="c1" x="595.92">Q</tspan><tspan class="c13" x="605.57">R</tspan><tspan class="c0" x="615.22">T</tspan><tspan class="c1" x="624.87">A</tspan><tspan class="c1" x="634.53">L</tspan><tspan class="c9" x="644.18">A</tspan><tspan class="c0" x="653.83">F</tspan><tspan class="c0" x="663.48">V</tspan><tspan class="c3" x="673.13">G</tspan><tspan class="c11" x="682.78">L</tspan><tspan class="c0" x="692.43">L</tspan><tspan class="c1 w" x="702.09">M</tspan><tspan class="c3" x="711.74">L</tspan><tspan class="c13" x="721.39">F</tspan><tspan class="c5" x="731.04">L</tspan><tspan class="c13" x="740.69">V</tspan><tspan class="c10" x="750.34">F</tspan><tspan class="c0" x="760.00">L</tspan><tspan class="c3" x="769.65">L</tspan><tspan class="c3" x="779.30">V</tspan><tspan class="c3" x="788.95">R</tspan><tspan class="c0" x="798.60">C</tspan><tspan class="c9" x="808.25">F</tspan><tspan class="c0" x="817.90">R</tspan><tspan class="c0" x="827.56">I</tspan><tspan class="c0" x="837.21">L</tspan><tspan class="c0" x="846.86">L</tspan><tspan class="c0" x="856.51">D</tspan><tspan class="c0" x="866.16">P</tspan><tspan class="c0" x="875.81">Y</tspan><tspan class="c1" x="885.47">S</tspan><tspan class="c11" x="895.12">R</tspan><tspan class="c3 w" x="904.77">M</tspan><tspan class="c0" x="914.42">P</tspan><tspan class="c0" x="924.07">A</tspan><tspan class="c0" x="933.72">S</tspan><tspan class="c1" x="943.38">S</tspan><tspan class="c6 w" x="953.03">W</tspan><tspan class="c1" x="962.68">T</tspan><tspan class="c0" x="972.33">D</tspan><tspan class="c0" x="981.98">H</tspan><tspan class="c1" x="991.63">K</tspan><tspan class="c3" x="1001.28">E</tspan><tspan class="c9" x="1010.94">G</tspan><tspan class="c1" x="1020.59">L</tspan><tspan class="c0" x="1030.24">E</tspan><tspan class="c1" x="1039.89">R</tspan><tspan class="c0" x="1049.54">G</tspan><tspan class="c0" x="1059.19">Q</tspan><tspan class="c0" x="1068.85">F</tspan><tspan class="c0" x="1078.50">D</tspan><tspan class="c0" x="1088.15">Y</tspan><tspan class="c1" x="1097.80">A</tspan><tspan class="c1" x="1107.45">L</tspan><tspan class="c1" x="1117.10">V</tspan></text>
<text y="654.45"><tspan class="c10" x="335.33">L</tspan><tspan class="c8" x="344.98">S</tspan><tspan class="c19" x="354.63">A</tspan><tspan class="c20" x="364.28">-</tspan><tspan class="c13" x="373.93">-</tspan><tspan class="c15" x="383.59">G</tspan><tspan class="c15" x="393.24">P</tspan><tspan class="c16" x="402.89">S</tspan><tspan class="c15" x="412.54">F</tspan><tspan class="c15" x="422.19">A</tspan><tspan class="c14" x="431.84">G</tspan><tspan class="c12" x="441.49">A</tspan><tspan class="c4" x="451.15">P</tspan><tspan class="c2" x="460.80">-</tspan><tspan class="c8" x="470.45">S</tspan><tspan class="c8" x="480.10">S</tspan><tspan class="c12" x="489.75">P</tspan><tspan class="c0" x="499.40">P</tspan><tspan class="c5" x="509.06">L</tspan><tspan class="c18" x="518.71">G</tspan><tspan class="c3" x="528.36">-</tspan><tspan class="c7" x="538.01">-</tspan><tspan class="c7" x="547.66">-</tspan><tspan class="c17" x="557.31">G</tspan><tspan class="c3" x="566.96">D</tspan><tspan class="c11" x="576.62">A</tspan><tspan class="c0" x="586.27">E</tspan><tspan class="c1" x="595.92">Q</tspan><tspan class="c13" x="605.57">R</tspan><tspan class="c0" x="615.22">T</tspan><tspan class="c1" x="624.87">A</tspan><tspan class="c1" x="634.53">F</tspan><tspan class="c9" x="644.18">A</tspan><tspan class="c0" x="653.83">F</tspan><tspan class="c0" x="663.48">V</tspan><tspan class="c3" x="673.13">G</tspan><tspan class="c11" x="682.78">L</tspan><tspan class="c0" x="692.43">L</tspan><tspan class="c1 w" x="702.09">M</tspan><tspan class="c3" x="711.74">L</tspan><tspan class="c13" x="721.39">F</tspan><tspan class="c5" x="731.04">L</tspan><tspan class="c13" x="740.69">I</tspan><tspan class="c10" x="750.34">F</tspan><tspan class="c0" x="760.00">L</tspan><tspan class="c3" x="769.65">L</tspan><tspan class="c3" x="779.30">V</tspan><tspan class="c3" x="788.95">R</tspan><tspan class="c0" x="798.60">C</tspan><tspan class="c9" x="808.25">F</tspan><tspan class="c0" x="817.90">R</tspan><tspan class="c0" x="827.56">I</tspan><tspan class="c0" x="837.21">L</tspan><tspan class="c0" x="846.86">L</tspan><tspan class="c0" x="856.51">D</tspan><tspan class="c0" x="866.16">P</tspan><tspan class="c0" x="875.81">Y</tspan><tspan class="c1" x="885.47">S</tspan><tspan class="c11" x="895.12">R</tspan><tspan class="c3 w" x="904.77">M</tspan><tspan class="c0" x="914.42">P</tspan><tspan class="c0" x="924.07">A</tspan><tspan class="c0" x="933.72">S</tspan><tspan class="c1" x="943.38">S</tspan><tspan class="c6 w" x="953.03">W</tspan><tspan class="c1" x="962.68">T</tspan><tspan class="c0" x="972.33">D</tspan><tspan class="c0" x="981.98">H</tspan><tspan class="c1" x="991.63">K</tspan><tspan class="c3" x="1001.28">E</tspan><tspan class="c9" x="1010.94">G</tspan><tspan class="c1" x="1020.59">F</tspan><tspan class="c0" x="1030.24">E</tspan><tspan class="c1" x="1039.89">R</tspan><tspan class="c0" x="1049.54">G</tspan><tspan class="c0" x="1059.19">Q</tspan><tspan class="c0" x="1068.85">F</tspan><tspan class="c0" x="1078.50">D</tspan><tspan class="c0" x="1088.15">Y</tspan><tspan class="c1" x="1097.80">A</tspan><tspan class="c1" x="1107.45">L</tspan><tspan class="c1" x="1117.10">V</tspan></text>
<text y="675.45"><tspan class="c10" x="335.33">L</tspan><tspan class="c8" x="344.98">S</tspan><tspan class="c19" x="354.63">P</tspan><tspan class="c20" x="364.28">-</tspan><tspan class="c13" x="373.93">-</tspan><tspan class="c15" x="383.59">G</tspan><tspan class="c15" x="393.24">A</tspan><tspan class="c16" x="402.89">P</tspan><tspan class="c15" x="412.54">L</tspan><tspan class="c15" x="422.19">T</tspan><tspan class="c14" x="431.84">S</tspan><tspan class="c12" x="441.49">P</tspan><tspan class="c4" x="451.15">P</tspan><tspan class="c2" x="460.80">-</tspan><tspan class="c8" x="470.45">T</tspan><tspan class="c8" x="480.10">G</tspan><tspan class="c12" x="489.75">P</tspan><tspan class="c0" x="499.40">P</tspan><tspan class="c5" x="509.06">L</tspan><tspan class="c18" x="518.71">V</tspan><tspan class="c3" x="528.36">-</tspan><tspan class="c7" x="538.01">-</tspan><tspan class="c7" x="547.66">-</tspan><tspan class="c17" x="557.31">G</tspan><tspan class="c3" x="566.96">D</tspan><tspan class="c11" x="576.62">A</tspan><tspan class="c0" x="586.27">E</tspan><tspan class="c1" x="595.92">Q</tspan><tspan class="c13" x="605.57">K</tspan><tspan class="c0" x="615.22">T</tspan><tspan class="c1" x="624.87">A</tspan><tspan class="c1" x="634.53">F</tspan><tspan class="c9" x="644.18">A</tspan><tspan class="c0" x="653.83">F</tspan><tspan class="c0" x="663.48">V</tspan><tspan class="c3" x="673.13">G</tspan><tspan class="c11" x="682.78">L</tspan><tspan class="c0" x="692.43">L</tspan><tspan class="c1" x="702.09">L</tspan><tspan class="c3" x="711.74">V</tspan><tspan class="c13" x="721.39">F</tspan><tspan class="c5" x="731.04">L</tspan><tspan class="c13" x="740.69">V</tspan><tspan class="c10" x="750.34">F</tspan><tspan class="c0" x="760.00">L</tspan><tspan class="c3" x="769.65">V</tspan><tspan class="c3" x="779.30">V</tspan><tspan class="c3" x="788.95">R</tspan><tspan class="c0" x="798.60">C</tspan><tspan class="c9" x="808.25">F</tspan><tspan class="c0" x="817.90">R</tspan><tspan class="c0" x="827.56">I</tspan><tspan class="c0" x="837.21">L</tspan><tspan class="c0" x="846.86">L</tspan><tspan class="c0" x="856.51">D</tspan><tspan class="c0" x="866.16">P</tspan><tspan class="c0" x="875.81">Y</tspan><tspan class="c1" x="885.47">S</tspan><tspan class="c11" x="895.12">R</tspan><tspan class="c3 w" x="904.77">M</tspan><tspan class="c0" x="914.42">P</tspan><tspan class="c0" x="924.07">A</tspan><tspan class="c0" x="933.72">S</tspan><tspan class="c1" x="943.38">S</tspan><tspan class="c6 w" x="953.03">W</tspan><tspan class="c1" x="962.68">T</tspan><tspan class="c0" x="972.33">D</tspan><tspan class="c0" x="981.98">H</tspan><tspan class="c1" x="991.63">K</tspan><tspan class="c3" x="1001.28">E</tspan><tspan class="c9" x="1010.94">G</tspan><tspan class="c1" x="1020.59">L</tspan><tspan class="c0" x="1030.24">E</tspan><tspan class="c1" x="1039.89">R</tspan><tspan class="c0" x="1049.54">G</tspan><tspan class="c0" x="1059.19">Q</tspan><tspan class="c0" x="1068.85">F</tspan><tspan class="c0" x="1078.50">D</tspan><tspan class="c0" x="1088.15">Y</tspan><tspan class="c1" x="1097.80">A</tspan><tspan class="c1" x="1107.45">L</tspan><tspan class="c1" x="1117.10">V</tspan></text>
<text y="696.45"><tspan class="c10" x="335.33">L</tspan><tspan class="c8" x="344.98">L</tspan><tspan class="c19" x="354.63">S</tspan><tspan class="c20" x="364.28">P</tspan><tspan class="c13" x="373.93">-</tspan><tspan class="c15" x="383.59">-</tspan><tspan class="c15" x="393.24">T</tspan><tspan class="c16" x="402.89">L</tspan><tspan class="c15" x="412.54">L</tspan><tspan class="c15" x="422.19">D</tspan><tspan class="c14" x="431.84">H</tspan><tspan class="c12" x="441.49">R</tspan><tspan class="c4" x="451.15">P</tspan><tspan class="c2" x="460.80">-</tspan><tspan class="c8" x="470.45">S</tspan><tspan class="c8" x="480.10">S</tspan><tspan class="c12" x="489.75">T</tspan><tspan class="c0" x="499.40">G</tspan><tspan class="c5 w" x="509.06">M</tspan><tspan class="c18" x="518.71">-</tspan><tspan class="c3" x="528.36">-</tspan><tspan class="c7" x="538.01">-</tspan><tspan class="c7" x="547.66">-</tspan><tspan class="c17" x="557.31">-</tspan><tspan class="c3" x="566.96">D</tspan><tspan class="c11" x="576.62">A</tspan><tspan class="c0" x="586.27">E</tspan><tspan class="c1" x="595.92">Q</tspan><tspan class="c13" x="605.57">K</tspan><tspan class="c0" x="615.22">T</tspan><tspan class="c1" x="624.87">V</tspan><tspan class="c1" x="634.53">F</tspan><tspan class="c9" x="644.18">A</tspan><tspan class="c0" x="653.83">F</tspan><tspan class="c0" x="663.48">V</tspan><tspan class="c3" x="673.13">I</tspan><tspan class="c11" x="682.78">F</tspan><tspan class="c0" x="692.43">L</tspan><tspan class="c1" x="702.09">L</tspan><tspan class="c3" x="711.74">V</tspan><tspan class="c13" x="721.39">F</tspan><tspan class="c5" x="731.04">L</tspan><tspan class="c13" x="740.69">V</tspan><tspan class="c10" x="750.34">I</tspan><tspan class="c0" x="760.00">L</tspan><tspan class="c3 w" x="769.65">M</tspan><tspan class="c3" x="779.30">V</tspan><tspan class="c3" x="788.95">R</tspan><tspan class="c0" x="798.60">C</tspan><tspan class="c9" x="808.25">F</tspan><tspan class="c0" x="817.90">R</tspan><tspan class="c0" x="827.56">I</tspan><tspan class="c0" x="837.21">L</tspan><tspan class="c0" x="846.86">L</tspan><tspan class="c0" x="856.51">D</tspan><tspan class="c0" x="866.16">P</tspan><tspan class="c0" x="875.81">Y</tspan><tspan class="c1" x="885.47">S</tspan><tspan class="c11" x="895.12">R</tspan><tspan class="c3 w" x="904.77">M</tspan><tspan class="c0" x="914.42">P</tspan><tspan class="c0" x="924.07">A</tspan><tspan class="c0" x="933.72">S</tspan><tspan class="c1" x="943.38">S</tspan><tspan class="c6 w" x="953.03">W</tspan><tspan class="c1" x="962.68">T</tspan><tspan class="c0" x="972.33">D</tspan><tspan class="c0" x="981.98">H</tspan><tspan class="c1" x="991.63">K</tspan><tspan class="c3" x="1001.28">E</tspan><tspan class="c9" x="1010.94">G</tspan><tspan class="c1" x="1020.59">L</tspan><tspan class="c0" x="1030.24">E</tspan><tspan class="c1" x="1039.89">R</tspan><tspan class="c0" x="1049.54">G</tspan><tspan class="c0" x="1059.19">Q</tspan><tspan class="c0" x="1068.85">F</tspan><tspan class="c0" x="1078.50">D</tspan><tspan class="c0" x="1088.15">Y</tspan><tspan class="c1" x="1097.80">A</tspan><tspan class="c1" x="1107.45">L</tspan><tspan class="c1" x="1117.10">V</tspan></text>
<text y="717.45"><tspan class="c10" x="335.33">S</tspan><tspan class="c8" x="344.98">S</tspan><tspan class="c19" x="354.63">Q</tspan><tspan class="c20" x="364.28">A</tspan><tspan class="c13" x="373.93">P</tspan><tspan class="c15" x="383.59">L</tspan><tspan class="c15" x="393.24">G</tspan><tspan class="c16" x="402.89">F</tspan><tspan class="c15" x="412.54">P</tspan><tspan class="c15" x="422.19">R</tspan><tspan class="c14" x="431.84">G</tspan><tspan class="c12" x="441.49">P</tspan><tspan class="c4" x="451.15">T</tspan><tspan class="c2" x="460.80">-</tspan><tspan class="c8" x="470.45">V</tspan><tspan class="c8" x="480.10">L</tspan><tspan class="c12" x="489.75">Q</tspan><tspan class="c0" x="499.40">P</tspan><tspan class="c5 w" x="509.06">M</tspan><tspan class="c18" x="518.71">V</tspan><tspan class="c3" x="528.36">-</tspan><tspan class="c7" x="538.01">-</tspan><tspan class="c7" x="547.66">-</tspan><tspan class="c17" x="557.31">E</tspan><tspan class="c3" x="566.96">H</tspan><tspan class="c11" x="576.62">S</tspan><tspan class="c0" x="586.27">E</tspan><tspan class="c1" x="595.92">R</tspan><tspan class="c13" x="605.57">G</tspan><tspan class="c0" x="615.22">T</tspan><tspan class="c1" x="624.87">A</tspan><tspan class="c1" x="634.53">L</tspan><tspan class="c9" x="644.18">C</tspan><tspan class="c0" x="653.83">F</tspan><tspan class="c0" x="663.48">I</tspan><tspan class="c3" x="673.13">G</tspan><tspan class="c11" x="682.78">L</tspan><tspan class="c0" x="692.43">L</tspan><tspan class="c1" x="702.09">V</tspan><tspan class="c3" x="711.74">L</tspan><tspan class="c13" x="721.39">L</tspan><tspan class="c5" x="731.04">L</tspan><tspan class="c13" x="740.69">L</tspan><tspan class="c10" x="750.34">F</tspan><tspan class="c0" x="760.00">L</tspan><tspan class="c3" x="769.65">L</tspan><tspan class="c3" x="779.30">V</tspan><tspan class="c3" x="788.95">R</tspan><tspan class="c0" x="798.60">C</tspan><tspan class="c9" x="808.25">V</tspan><tspan class="c0" x="817.90">R</tspan><tspan class="c0" x="827.56">I</tspan><tspan class="c0" x="837.21">L</tspan><tspan class="c0" x="846.86">L</tspan><tspan class="c0" x="856.51">D</tspan><tspan class="c0" x="866.16">P</tspan><tspan class="c0" x="875.81">Y</tspan><tspan class="c1" x="885.47">S</tspan><tspan class="c11" x="895.12">S</tspan><tspan class="c3 w" x="904.77">M</tspan><tspan class="c0" x="914.42">P</tspan><tspan class="c0" x="924.07">A</tspan><tspan class="c0" x="933.72">S</tspan><tspan class="c1" x="943.38">S</tspan><tspan class="c6 w" x="953.03">W</tspan><tspan class="c1" x="962.68">T</tspan><tspan class="c0" x="972.33">D</tspan><tspan class="c0" x="981.98">H</tspan><tspan class="c1" x="991.63">K</tspan><tspan class="c3" x="1001.28">E</tspan><tspan class="c9" x="1010.94">G</tspan><tspan class="c1" x="1020.59">L</tspan><tspan class="c0" x="1030.24">D</tspan><tspan class="c1" x="1039.89">R</tspan><tspan class="c0" x="1049.54">G</tspan><tspan class="c0" x="1059.19">Q</tspan><tspan class="c0" x="1068.85">F</tspan><tspan class="c0" x="1078.50">D</tspan><tspan class="c0" x="1088.15">Y</tspan><tspan class="c1" x="1097.80">A</tspan><tspan class="c1" x="1107.45">L</tspan><tspan class="c1" x="1117.10">V</tspan></text>
<text y="738.45"><tspan class="c10" x="335.33">Q</tspan><tspan class="c8" x="344.98">S</tspan><tspan class="c19" x="354.63">V</tspan><tspan class="c20" x="364.28">G</tspan><tspan class="c13" x="373.93">P</tspan><tspan class="c15" x="383.59">A</tspan><tspan class="c15" x="393.24">A</tspan><tspan class="c16" x="402.89">-</tspan><tspan class="c15" x="412.54">G</tspan><tspan class="c15" x="422.19">S</tspan><tspan class="c14" x="431.84">G</tspan><tspan class="c12" x="441.49">A</tspan><tspan class="c4" x="451.15">T</tspan><tspan class="c2" x="460.80">-</tspan><tspan class="c8" x="470.45">A</tspan><tspan class="c8" x="480.10">G</tspan><tspan class="c12" x="489.75">L</tspan><tspan class="c0" x="499.40">P</tspan><tspan class="c5" x="509.06">L</tspan><tspan class="c18" x="518.71">A</tspan><tspan class="c3" x="528.36">-</tspan><tspan class="c7" x="538.01">-</tspan><tspan class="c7" x="547.66">-</tspan><tspan class="c17" x="557.31">P</tspan><tspan class="c3" x="566.96">D</tspan><tspan class="c11" x="576.62">T</tspan><tspan class="c0" x="586.27">E</tspan><tspan class="c1" x="595.92">Q</tspan><tspan class="c13" x="605.57">S</tspan><tspan class="c0" x="615.22">T</tspan><tspan class="c1" x="624.87">A</tspan><tspan class="c1" x="634.53">L</tspan><tspan class="c9" x="644.18">C</tspan><tspan class="c0" x="653.83">F</tspan><tspan class="c0" x="663.48">V</tspan><tspan class="c3" x="673.13">G</tspan><tspan class="c11" x="682.78">L</tspan><tspan class="c0" x="692.43">L</tspan><tspan class="c1" x="702.09">L</tspan><tspan class="c3" x="711.74">L</tspan><tspan class="c13" x="721.39">I</tspan><tspan class="c5" x="731.04">L</tspan><tspan class="c13" x="740.69">V</tspan><tspan class="c10" x="750.34">V</tspan><tspan class="c0" x="760.00">L</tspan><tspan class="c3" x="769.65">L</tspan><tspan class="c3" x="779.30">V</tspan><tspan class="c3" x="788.95">R</tspan><tspan class="c0" x="798.60">C</tspan><tspan class="c9" x="808.25">F</tspan><tspan class="c0" x="817.90">R</tspan><tspan class="c0" x="827.56">I</tspan><tspan class="c0" x="837.21">L</tspan><tspan class="c0" x="846.86">L</tspan><tspan class="c0" x="856.51">D</tspan><tspan class="c0" x="866.16">P</tspan><tspan class="c0" x="875.81">Y</tspan><tspan class="c1" x="885.47">S</tspan><tspan class="c11" x="895.12">S</tspan><tspan class="c3 w" x="904.77">M</tspan><tspan class="c0" x="914.42">P</tspan><tspan class="c0" x="924.07">A</tspan><tspan class="c0" x="933.72">S</tspan><tspan class="c1" x="943.38">T</tspan><tspan class="c6 w" x="953.03">W</tspan><tspan class="c1" x="962.68">R</tspan><tspan class="c0" x="972.33">D</tspan><tspan class="c0" x="981.98">H</tspan><tspan class="c1" x="991.63">K</tspan><tspan class="c3" x="1001.28">D</tspan><tspan class="c9" x="1010.94">R</tspan><tspan class="c1" x="1020.59">L</tspan><tspan class="c0" x="1030.24">E</tspan><tspan class="c1" x="1039.89">R</tspan><tspan class="c0" x="1049.54">G</tspan><tspan class="c0" x="1059.19">Q</tspan><tspan class="c0" x="1068.85">F</tspan><tspan class="c0" x="1078.50">E</tspan><tspan class="c0" x="1088.15">S</tspan><tspan class="c1" x="1097.80">A</tspan><tspan class="c1" x="1107.45">V</tspan><tspan class="c1" x="1117.10">V</tspan></text>
</g>
<rect x="58.40" y="35.50" width="1210.68" height="714.90" fill="none" stroke="#7f7f7f" stroke-width="1"/>
<g stroke="#b8b8b8" stroke-width="1" fill="none">
<line x1="54.60" y1="35.50" x2="54.60" y2="750.40"/><line x1="58.40" y1="754.5" x2="1269.08" y2="754.5"/><line x1="52.23" y1="750.40" x2="54.60" y2="750.40"/><line x1="52.23" y1="729.67" x2="54.60" y2="729.67"/><line x1="52.23" y1="708.94" x2="54.60" y2="708.94"/><line x1="52.23" y1="688.21" x2="54.60" y2="688.21"/><line x1="52.23" y1="667.48" x2="54.60" y2="667.48"/><line x1="52.23" y1="646.75" x2="54.60" y2="646.75"/><line x1="52.23" y1="626.02" x2="54.60" y2="626.02"/><line x1="52.23" y1="605.29" x2="54.60" y2="605.29"/><line x1="52.23" y1="584.56" x2="54.60" y2="584.56"/><line x1="52.23" y1="563.83" x2="54.60" y2="563.83"/><line x1="52.23" y1="543.10" x2="54.60" y2="543.10"/><line x1="52.23" y1="522.37" x2="54.60" y2="522.37"/><line x1="52.23" y1="501.64" x2="54.60" y2="501.64"/><line x1="52.23" y1="480.91" x2="54.60" y2="480.91"/><line x1="52.23" y1="460.18" x2="54.60" y2="460.18"/><line x1="52.23" y1="439.45" x2="54.60" y2="439.45"/><line x1="52.23" y1="418.72" x2="54.60" y2="418.72"/><line x1="52.23" y1="397.99" x2="54.60" y2="397.99"/><line x1="52.23" y1="377.26" x2="54.60" y2="377.26"/><line x1="52.23" y1="356.53" x2="54.60" y2="356.53"/><line x1="52.23" y1="335.80" x2="54.60" y2="335.80"/><line x1="52.23" y1="315.07" x2="54.60" y2="315.07"/><line x1="52.23" y1="294.34" x2="54.60" y2="294.34"/><line x1="52.23" y1="273.61" x2="54.60" y2="273.61"/><line x1="52.23" y1="252.88" x2="54.60" y2="252.88"/><line x1="52.23" y1="232.15" x2="54.60" y2="232.15"/><line x1="52.23" y1="211.42" x2="54.60" y2="211.42"/><line x1="52.23" y1="190.69" x2="54.60" y2="190.69"/><line x1="52.23" y1="169.96" x2="54.60" y2="169.96"/><line x1="52.23" y1="149.23" x2="54.60" y2="149.23"/><line x1="52.23" y1="128.50" x2="54.60" y2="128.50"/><line x1="52.23" y1="107.77" x2="54.60" y2="107.77"/><line x1="52.23" y1="87.04" x2="54.60" y2="87.04"/><line x1="52.23" y1="66.31" x2="54.60" y2="66.31"/><line x1="52.23" y1="45.58" x2="54.60" y2="45.58"/><line x1="58.40" y1="754.5" x2="58.40" y2="757"/><line x1="80.02" y1="754.5" x2="80.02" y2="757"/><line x1="101.64" y1="754.5" x2="101.64" y2="757"/><line x1="123.26" y1="754.5" x2="123.26" y2="757"/><line x1="144.88" y1="754.5" x2="144.88" y2="757"/><line x1="166.49" y1="754.5" x2="166.49" y2="757"/><line x1="188.11" y1="754.5" x2="188.11" y2="757"/><line x1="209.73" y1="754.5" x2="209.73" y2="757"/><line x1="231.35" y1="754.5" x2="231.35" y2="757"/><line x1="252.97" y1="754.5" x2="252.97" y2="757"/><line x1="274.59" y1="754.5" x2="274.59" y2="757"/><line x1="296.21" y1="754.5" x2="296.21" y2="757"/><line x1="317.83" y1="754.5" x2="317.83" y2="757"/><line x1="339.45" y1="754.5" x2="339.45" y2="757"/><line x1="361.07" y1="754.5" x2="361.07" y2="757"/><line x1="382.69" y1="754.5" x2="382.69" y2="757"/><line x1="404.31" y1="754.5" x2="404.31" y2="757"/><line x1="425.93" y1="754.5" x2="425.93" y2="757"/><line x1="447.55" y1="754.5" x2="447.55" y2="757"/><line x1="469.17" y1="754.5" x2="469.17" y2="757"/><line x1="490.79" y1="754.5" x2="490.79" y2="757"/><line x1="512.41" y1="754.5" x2="512.41" y2="757"/><line x1="534.03" y1="754.5" x2="534.03" y2="757"/><line x1="555.65" y1="754.5" x2="555.65" y2="757"/><line x1="577.26" y1="754.5" x2="577.26" y2="757"/><line x1="598.88" y1="754.5" x2="598.88" y2="757"/><line x1="620.50" y1="754.5" x2="620.50" y2="757"/><line x1="642.12" y1="754.5" x2="642.12" y2="757"/><line x1="663.74" y1="754.5" x2="663.74" y2="757"/><line x1="685.36" y1="754.5" x2="685.36" y2="757"/><line x1="706.98" y1="754.5" x2="706.98" y2="757"/><line x1="728.60" y1="754.5" x2="728.60" y2="757"/><line x1="750.22" y1="754.5" x2="750.22" y2="757"/><line x1="771.84" y1="754.5" x2="771.84" y2="757"/><line x1="793.46" y1="754.5" x2="793.46" y2="757"/><line x1="815.08" y1="754.5" x2="815.08" y2="757"/><line x1="836.70" y1="754.5" x2="836.70" y2="757"/><line x1="858.32" y1="754.5" x2="858.32" y2="757"/><line x1="879.94" y1="754.5" x2="879.94" y2="757"/><line x1="901.56" y1="754.5" x2="901.56" y2="757"/><line x1="923.18" y1="754.5" x2="923.18" y2="757"/><line x1="944.80" y1="754.5" x2="944.80" y2="757"/><line x1="966.42" y1="754.5" x2="966.42" y2="757"/><line x1="988.03" y1="754.5" x2="988.03" y2="757"/><line x1="1009.65" y1="754.5" x2="1009.65" y2="757"/><line x1="1031.27" y1="754.5" x2="1031.27" y2="757"/><line x1="1052.89" y1="754.5" x2="1052.89" y2="757"/><line x1="1074.51" y1="754.5" x2="1074.51" y2="757"/><line x1="1096.13" y1="754.5" x2="1096.13" y2="757"/><line x1="1117.75" y1="754.5" x2="1117.75" y2="757"/><line x1="1139.37" y1="754.5" x2="1139.37" y2="757"/><line x1="1160.99" y1="754.5" x2="1160.99" y2="757"/><line x1="1182.61" y1="754.5" x2="1182.61" y2="757"/><line x1="1204.23" y1="754.5" x2="1204.23" y2="757"/><line x1="1225.85" y1="754.5" x2="1225.85" y2="757"/><line x1="1247.47" y1="754.5" x2="1247.47" y2="757"/><line x1="1269.09" y1="754.5" x2="1269.09" y2="757"/>
</g>
<g class="s" font-size="12" fill="#555">
<text transform="translate(47.95,754.60) scale(0.9,1)" text-anchor="end">0.0</text><text transform="translate(47.95,733.87) scale(0.9,1)" text-anchor="end">0.1</text><text transform="translate(47.95,713.14) scale(0.9,1)" text-anchor="end">0.2</text><text transform="translate(47.95,692.41) scale(0.9,1)" text-anchor="end">0.3</text><text transform="translate(47.95,671.68) scale(0.9,1)" text-anchor="end">0.4</text><text transform="translate(47.95,650.95) scale(0.9,1)" text-anchor="end">0.5</text><text transform="translate(47.95,630.22) scale(0.9,1)" text-anchor="end">0.6</text><text transform="translate(47.95,609.49) scale(0.9,1)" text-anchor="end">0.7</text><text transform="translate(47.95,588.76) scale(0.9,1)" text-anchor="end">0.8</text><text transform="translate(47.95,568.03) scale(0.9,1)" text-anchor="end">0.9</text><text transform="translate(47.95,547.30) scale(0.9,1)" text-anchor="end">1.0</text><text transform="translate(47.95,526.57) scale(0.9,1)" text-anchor="end">1.1</text><text transform="translate(47.95,505.84) scale(0.9,1)" text-anchor="end">1.2</text><text transform="translate(47.95,485.11) scale(0.9,1)" text-anchor="end">1.3</text><text transform="translate(47.95,464.38) scale(0.9,1)" text-anchor="end">1.4</text><text transform="translate(47.95,443.65) scale(0.9,1)" text-anchor="end">1.5</text><text transform="translate(47.95,422.92) scale(0.9,1)" text-anchor="end">1.6</text><text transform="translate(47.95,402.19) scale(0.9,1)" text-anchor="end">1.7</text><text transform="translate(47.95,381.46) scale(0.9,1)" text-anchor="end">1.8</text><text transform="translate(47.95,360.73) scale(0.9,1)" text-anchor="end">1.9</text><text transform="translate(47.95,340.00) scale(0.9,1)" text-anchor="end">2.0</text><text transform="translate(47.95,319.27) scale(0.9,1)" text-anchor="end">2.1</text><text transform="translate(47.95,298.54) scale(0.9,1)" text-anchor="end">2.2</text><text transform="translate(47.95,277.81) scale(0.9,1)" text-anchor="end">2.3</text><text transform="translate(47.95,257.08) scale(0.9,1)" text-anchor="end">2.4</text><text transform="translate(47.95,236.35) scale(0.9,1)" text-anchor="end">2.5</text><text transform="translate(47.95,215.62) scale(0.9,1)" text-anchor="end">2.6</text><text transform="translate(47.95,194.89) scale(0.9,1)" text-anchor="end">2.7</text><text transform="translate(47.95,174.16) scale(0.9,1)" text-anchor="end">2.8</text><text transform="translate(47.95,153.43) scale(0.9,1)" text-anchor="end">2.9</text><text transform="translate(47.95,132.70) scale(0.9,1)" text-anchor="end">3.0</text><text transform="translate(47.95,111.97) scale(0.9,1)" text-anchor="end">3.1</text><text transform="translate(47.95,91.24) scale(0.9,1)" text-anchor="end">3.2</text><text transform="translate(47.95,70.51) scale(0.9,1)" text-anchor="end">3.3</text><text transform="translate(47.95,49.78) scale(0.9,1)" text-anchor="end">3.4</text>
<text transform="translate(381.89,769.6) scale(0.9,1)" text-anchor="middle">1</text><text transform="translate(403.51,769.6) scale(0.9,1)" text-anchor="middle">3</text><text transform="translate(425.13,769.6) scale(0.9,1)" text-anchor="middle">5</text><text transform="translate(446.75,769.6) scale(0.9,1)" text-anchor="middle">7</text><text transform="translate(468.37,769.6) scale(0.9,1)" text-anchor="middle">9</text><text transform="translate(489.99,769.6) scale(0.9,1)" text-anchor="middle">11</text><text transform="translate(511.61,769.6) scale(0.9,1)" text-anchor="middle">13</text><text transform="translate(533.23,769.6) scale(0.9,1)" text-anchor="middle">15</text><text transform="translate(554.85,769.6) scale(0.9,1)" text-anchor="middle">17</text><text transform="translate(576.46,769.6) scale(0.9,1)" text-anchor="middle">19</text><text transform="translate(598.08,769.6) scale(0.9,1)" text-anchor="middle">21</text><text transform="translate(619.70,769.6) scale(0.9,1)" text-anchor="middle">23</text><text transform="translate(641.32,769.6) scale(0.9,1)" text-anchor="middle">25</text><text transform="translate(662.94,769.6) scale(0.9,1)" text-anchor="middle">27</text><text transform="translate(684.56,769.6) scale(0.9,1)" text-anchor="middle">29</text><text transform="translate(706.18,769.6) scale(0.9,1)" text-anchor="middle">31</text><text transform="translate(727.80,769.6) scale(0.9,1)" text-anchor="middle">33</text><text transform="translate(749.42,769.6) scale(0.9,1)" text-anchor="middle">35</text><text transform="translate(771.04,769.6) scale(0.9,1)" text-anchor="middle">37</text><text transform="translate(792.66,769.6) scale(0.9,1)" text-anchor="middle">39</text><text transform="translate(814.28,769.6) scale(0.9,1)" text-anchor="middle">41</text><text transform="translate(835.90,769.6) scale(0.9,1)" text-anchor="middle">43</text><text transform="translate(857.52,769.6) scale(0.9,1)" text-anchor="middle">45</text><text transform="translate(879.14,769.6) scale(0.9,1)" text-anchor="middle">47</text><text transform="translate(900.76,769.6) scale(0.9,1)" text-anchor="middle">49</text><text transform="translate(922.38,769.6) scale(0.9,1)" text-anchor="middle">51</text><text transform="translate(944.00,769.6) scale(0.9,1)" text-anchor="middle">53</text><text transform="translate(965.62,769.6) scale(0.9,1)" text-anchor="middle">55</text><text transform="translate(987.23,769.6) scale(0.9,1)" text-anchor="middle">57</text><text transform="translate(1008.85,769.6) scale(0.9,1)" text-anchor="middle">59</text><text transform="translate(1030.47,769.6) scale(0.9,1)" text-anchor="middle">61</text><text transform="translate(1052.09,769.6) scale(0.9,1)" text-anchor="middle">63</text><text transform="translate(1073.71,769.6) scale(0.9,1)" text-anchor="middle">65</text><text transform="translate(1095.33,769.6) scale(0.9,1)" text-anchor="middle">67</text><text transform="translate(1116.95,769.6) scale(0.9,1)" text-anchor="middle">69</text><text transform="translate(1138.57,769.6) scale(0.9,1)" text-anchor="middle">71</text><text transform="translate(1160.19,769.6) scale(0.9,1)" text-anchor="middle">73</text><text transform="translate(1181.81,769.6) scale(0.9,1)" text-anchor="middle">75</text><text transform="translate(1203.43,769.6) scale(0.9,1)" text-anchor="middle">77</text><text transform="translate(1225.05,769.6) scale(0.9,1)" text-anchor="middle">79</text><text transform="translate(1246.67,769.6) scale(0.9,1)" text-anchor="middle">81</text><text transform="translate(1268.29,769.6) scale(0.9,1)" text-anchor="middle">83</text>
</g>
<text class="s" x="662.50" y="788.6" font-size="13" text-anchor="middle" fill="#404040" stroke="#404040" stroke-width="0.25">Position in the Multiple Alignment</text>
<text class="s" font-size="13.75" text-anchor="middle" fill="#404040" stroke="#404040" stroke-width="0.25" transform="translate(22.79,393.4) rotate(-90)">Relative Substitution Score</text>
</svg>
</body></html>
